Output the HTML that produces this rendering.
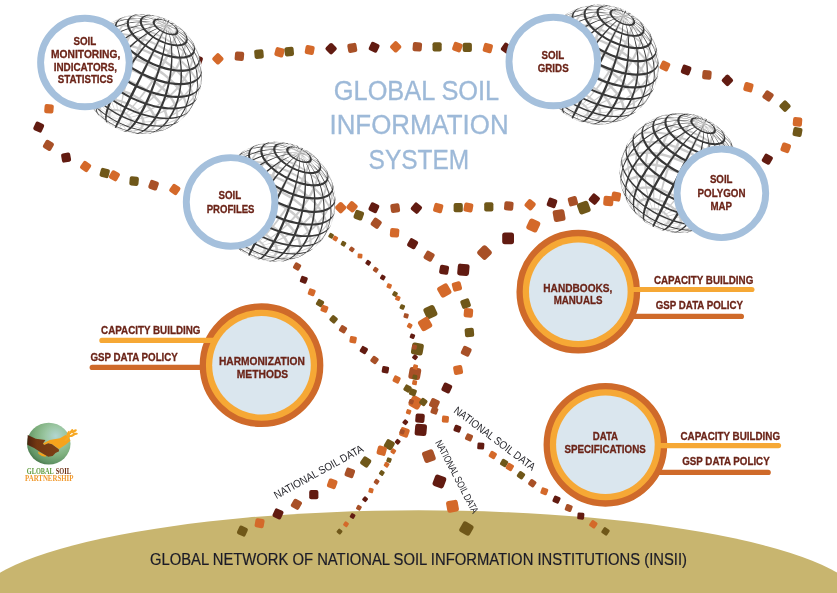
<!DOCTYPE html>
<html lang="en"><head><meta charset="utf-8"><title>Global Soil Information System</title>
<style>html,body{margin:0;padding:0;background:#fff}body{width:837px;height:593px;overflow:hidden}svg{display:block;will-change:transform;transform:translateZ(0)}</style>
</head><body>
<svg width="837" height="593" viewBox="0 0 837 593" font-family="'Liberation Sans', sans-serif"><defs>
<g id="globe">
<circle r="59.6" fill="#fff"/>
<path d="M0.5 -60.0L2.3 -59.9L4.2 -59.8L6.2 -59.6L8.2 -59.2L10.3 -58.8L12.4 -58.3L14.5 -57.7L16.7 -57.0L18.9 -56.2L21.0 -55.4L23.2 -54.5L25.3 -53.5L27.4 -52.4L29.5 -51.3L31.5 -50.2L33.5 -48.9L35.4 -47.7L37.3 -46.4L39.0 -45.0L40.7 -43.7L42.3 -42.3L43.8 -40.8L45.2 -39.4L46.4 -38.0L47.6 -36.6L48.6 -35.2L49.7 -33.6L48.6 -35.1L47.4 -36.6L46.1 -38.1L44.6 -39.7L43.1 -41.2L41.4 -42.6L39.6 -44.1L37.7 -45.5L35.8 -46.9L33.7 -48.2L31.6 -49.5L29.5 -50.8L27.3 -52.0L25.0 -53.1L22.8 -54.1L20.5 -55.1L18.2 -56.0L15.9 -56.8L13.6 -57.5L11.3 -58.2L9.1 -58.7L6.9 -59.2L4.7 -59.5L2.7 -59.8L0.6 -59.9L-1.3 -60.0ZM-15.9 -57.9L-14.1 -58.3L-12.1 -58.6L-10.0 -58.8L-7.7 -58.9L-5.4 -58.8L-3.0 -58.6L-0.5 -58.3L2.0 -57.9L4.7 -57.4L7.3 -56.7L10.0 -56.0L12.7 -55.1L15.5 -54.2L18.2 -53.1L20.9 -51.9L23.6 -50.7L26.2 -49.4L28.9 -48.0L31.4 -46.5L33.9 -45.0L36.3 -43.4L38.6 -41.7L40.9 -40.0L43.0 -38.3L45.0 -36.5L46.9 -34.7L48.6 -32.9L50.2 -31.1L51.6 -29.3L52.9 -27.5L54.0 -25.7L55.0 -23.9L55.8 -22.2L56.3 -20.5L57.1 -18.4L56.5 -20.1L55.7 -21.9L54.7 -23.8L53.6 -25.7L52.2 -27.6L50.7 -29.4L49.1 -31.3L47.2 -33.2L45.3 -35.1L43.2 -36.9L41.0 -38.7L38.7 -40.5L36.3 -42.2L33.8 -43.9L31.2 -45.5L28.6 -47.0L25.8 -48.4L23.1 -49.8L20.3 -51.1L17.5 -52.3L14.6 -53.4L11.8 -54.4L9.0 -55.3L6.2 -56.1L3.4 -56.7L0.7 -57.3L-2.0 -57.7L-4.6 -58.0L-7.1 -58.2L-9.5 -58.3L-11.8 -58.2L-14.0 -58.0L-16.1 -57.7L-18.0 -57.2ZM-29.0 -52.5L-27.1 -53.3L-25.1 -54.0L-22.9 -54.5L-20.6 -54.9L-18.1 -55.1L-15.5 -55.2L-12.8 -55.2L-10.0 -55.0L-7.0 -54.6L-4.1 -54.2L-1.0 -53.6L2.1 -52.8L5.2 -51.9L8.3 -51.0L11.5 -49.8L14.7 -48.6L17.8 -47.3L20.9 -45.9L24.0 -44.3L27.0 -42.7L30.0 -41.0L32.8 -39.2L35.6 -37.4L38.3 -35.4L40.9 -33.5L43.4 -31.5L45.7 -29.4L47.8 -27.3L49.9 -25.2L51.7 -23.1L53.4 -20.9L54.9 -18.8L56.2 -16.7L57.3 -14.6L58.2 -12.5L58.9 -10.5L59.4 -8.5L59.6 -6.6L59.8 -4.3L59.6 -6.3L59.1 -8.3L58.4 -10.4L57.5 -12.5L56.3 -14.6L55.0 -16.8L53.5 -19.0L51.8 -21.2L49.9 -23.4L47.8 -25.6L45.6 -27.7L43.2 -29.8L40.7 -31.9L38.0 -33.9L35.3 -35.9L32.4 -37.8L29.5 -39.6L26.5 -41.3L23.4 -43.0L20.2 -44.6L17.0 -46.0L13.8 -47.4L10.6 -48.6L7.4 -49.8L4.1 -50.8L0.9 -51.7L-2.2 -52.4L-5.4 -53.1L-8.4 -53.5L-11.4 -53.9L-14.3 -54.1L-17.1 -54.1L-19.7 -54.0L-22.3 -53.8L-24.7 -53.4L-26.9 -52.9L-29.0 -52.2L-30.9 -51.3ZM-40.8 -43.9L-39.2 -45.2L-37.3 -46.2L-35.2 -47.1L-33.0 -47.9L-30.6 -48.5L-28.0 -48.9L-25.2 -49.2L-22.4 -49.3L-19.4 -49.3L-16.3 -49.1L-13.1 -48.7L-9.8 -48.2L-6.5 -47.6L-3.1 -46.8L0.3 -45.9L3.7 -44.8L7.2 -43.6L10.6 -42.3L14.1 -40.8L17.5 -39.2L20.8 -37.6L24.1 -35.8L27.3 -33.9L30.5 -32.0L33.5 -30.0L36.4 -27.9L39.2 -25.7L41.9 -23.5L44.4 -21.2L46.8 -18.9L49.0 -16.6L51.0 -14.2L52.9 -11.9L54.5 -9.5L55.9 -7.2L57.1 -4.8L58.1 -2.5L58.9 -0.3L59.4 1.9L59.6 4.0L59.7 6.1L59.4 8.1L59.1 10.4L59.3 8.4L59.3 6.3L59.0 4.1L58.5 1.9L57.7 -0.4L56.8 -2.7L55.5 -5.1L54.1 -7.5L52.4 -9.8L50.6 -12.2L48.5 -14.6L46.3 -17.0L43.9 -19.3L41.4 -21.6L38.7 -23.9L35.8 -26.1L32.8 -28.2L29.8 -30.3L26.6 -32.2L23.3 -34.1L20.0 -35.9L16.6 -37.6L13.2 -39.2L9.7 -40.7L6.2 -42.0L2.7 -43.2L-0.8 -44.3L-4.2 -45.2L-7.7 -46.0L-11.0 -46.7L-14.3 -47.2L-17.6 -47.5L-20.7 -47.7L-23.7 -47.8L-26.6 -47.7L-29.4 -47.4L-32.0 -46.9L-34.5 -46.3L-36.8 -45.5L-38.9 -44.6L-40.8 -43.5L-42.5 -42.3ZM-50.4 -32.5L-49.1 -34.1L-47.6 -35.6L-45.8 -36.9L-43.9 -38.1L-41.7 -39.0L-39.3 -39.9L-36.8 -40.5L-34.1 -41.0L-31.2 -41.3L-28.2 -41.5L-25.1 -41.5L-21.8 -41.3L-18.5 -40.9L-15.1 -40.4L-11.6 -39.8L-8.1 -39.0L-4.5 -38.0L-0.9 -36.9L2.7 -35.7L6.3 -34.3L9.8 -32.8L13.4 -31.2L16.8 -29.4L20.3 -27.6L23.6 -25.7L26.9 -23.6L30.0 -21.5L33.1 -19.3L36.0 -17.0L38.7 -14.7L41.4 -12.3L43.8 -9.9L46.1 -7.5L48.2 -5.0L50.1 -2.5L51.8 -0.0L53.3 2.5L54.5 4.9L55.5 7.4L56.3 9.7L56.8 12.1L57.1 14.3L57.1 16.5L56.8 18.6L56.3 20.6L55.5 22.5L54.6 24.7L55.4 22.8L56.0 20.8L56.2 18.7L56.2 16.5L55.9 14.2L55.4 11.9L54.6 9.5L53.6 7.0L52.4 4.5L50.9 2.0L49.2 -0.5L47.3 -3.0L45.2 -5.4L42.9 -7.9L40.5 -10.3L37.8 -12.7L35.1 -15.1L32.2 -17.4L29.1 -19.6L25.9 -21.7L22.7 -23.7L19.3 -25.7L15.9 -27.5L12.4 -29.3L8.9 -30.9L5.3 -32.4L1.7 -33.8L-1.9 -35.0L-5.5 -36.1L-9.1 -37.1L-12.6 -37.9L-16.1 -38.5L-19.6 -39.0L-22.9 -39.4L-26.2 -39.5L-29.3 -39.6L-32.3 -39.4L-35.2 -39.1L-37.9 -38.6L-40.5 -37.9L-42.9 -37.1L-45.0 -36.1L-47.0 -34.9L-48.8 -33.6L-50.3 -32.1L-51.6 -30.5ZM-55.1 -22.7L-53.8 -24.3L-52.2 -25.9L-50.5 -27.2L-48.5 -28.4L-46.3 -29.4L-43.9 -30.3L-41.3 -31.0L-38.6 -31.5L-35.7 -31.9L-32.7 -32.0L-29.6 -32.1L-26.4 -31.9L-23.0 -31.6L-19.6 -31.1L-16.1 -30.5L-12.6 -29.7L-9.0 -28.8L-5.5 -27.7L-1.9 -26.5L1.7 -25.1L5.3 -23.6L8.8 -22.0L12.3 -20.3L15.7 -18.4L19.0 -16.5L22.2 -14.4L25.4 -12.3L28.4 -10.1L31.3 -7.8L34.1 -5.5L36.7 -3.1L39.1 -0.7L41.3 1.8L43.4 4.3L45.3 6.8L47.0 9.3L48.4 11.8L49.6 14.3L50.6 16.8L51.4 19.2L51.9 21.6L52.1 23.9L52.1 26.1L51.8 28.2L51.3 30.3L50.5 32.2L49.4 34.0L48.1 35.7L46.7 37.6L48.0 35.9L49.1 34.1L49.9 32.2L50.5 30.1L50.7 28.0L50.7 25.8L50.5 23.5L50.0 21.1L49.3 18.7L48.3 16.3L47.1 13.8L45.7 11.3L44.0 8.8L42.1 6.3L40.1 3.8L37.8 1.3L35.4 -1.1L32.9 -3.5L30.1 -5.8L27.2 -8.1L24.2 -10.3L21.1 -12.4L17.9 -14.4L14.6 -16.3L11.2 -18.2L7.7 -19.9L4.2 -21.5L0.7 -23.0L-2.8 -24.3L-6.4 -25.5L-10.0 -26.6L-13.5 -27.5L-17.0 -28.3L-20.5 -28.9L-23.9 -29.4L-27.2 -29.7L-30.4 -29.8L-33.5 -29.8L-36.5 -29.6L-39.4 -29.3L-42.1 -28.7L-44.6 -28.0L-47.0 -27.2L-49.2 -26.1L-51.2 -25.0L-52.9 -23.6L-54.5 -22.1L-55.8 -20.4ZM-56.9 -18.9L-56.1 -20.9L-55.1 -22.7L-55.8 -20.4L-56.8 -18.6L-57.6 -16.7ZM-57.3 -12.0L-56.0 -13.7L-54.5 -15.2L-52.8 -16.5L-50.9 -17.7L-48.8 -18.7L-46.6 -19.6L-44.1 -20.3L-41.5 -20.8L-38.7 -21.2L-35.8 -21.4L-32.8 -21.5L-29.7 -21.3L-26.5 -21.1L-23.3 -20.6L-19.9 -20.1L-16.6 -19.3L-13.1 -18.5L-9.7 -17.4L-6.3 -16.3L-2.9 -15.0L0.6 -13.6L3.9 -12.0L7.2 -10.4L10.5 -8.6L13.7 -6.8L16.8 -4.8L19.8 -2.8L22.7 -0.6L25.4 1.6L28.0 3.8L30.5 6.1L32.8 8.5L35.0 10.9L36.9 13.3L38.7 15.7L40.3 18.1L41.6 20.6L42.8 23.0L43.7 25.4L44.4 27.7L44.8 30.0L45.0 32.2L45.0 34.4L44.7 36.5L44.1 38.5L43.3 40.3L42.3 42.1L41.0 43.7L39.4 45.2L37.6 46.6L35.9 48.0L37.7 46.7L39.2 45.2L40.5 43.6L41.5 41.9L42.3 40.0L42.9 38.0L43.2 36.0L43.2 33.9L43.0 31.6L42.6 29.4L41.9 27.1L41.0 24.7L39.9 22.3L38.6 19.9L37.0 17.5L35.3 15.2L33.4 12.8L31.3 10.4L29.0 8.1L26.6 5.8L24.0 3.6L21.3 1.4L18.4 -0.7L15.5 -2.7L12.5 -4.6L9.3 -6.4L6.1 -8.2L2.8 -9.8L-0.5 -11.3L-3.8 -12.7L-7.2 -14.0L-10.6 -15.1L-14.0 -16.1L-17.3 -17.0L-20.7 -17.7L-23.9 -18.3L-27.2 -18.7L-30.3 -18.9L-33.4 -19.0L-36.3 -19.0L-39.2 -18.8L-41.9 -18.4L-44.4 -17.8L-46.9 -17.1L-49.1 -16.3L-51.2 -15.3L-53.1 -14.1L-54.7 -12.8L-56.2 -11.3L-57.4 -9.7ZM-59.9 -4.2L-59.6 -6.3L-59.1 -8.4L-58.3 -10.3L-57.3 -12.0L-57.4 -9.7L-58.4 -7.9L-59.2 -6.0L-59.7 -4.0L-60.0 -1.9ZM-57.0 -1.0L-55.8 -2.6L-54.5 -4.0L-53.0 -5.2L-51.2 -6.4L-49.3 -7.3L-47.2 -8.2L-45.0 -8.8L-42.6 -9.4L-40.1 -9.8L-37.4 -10.0L-34.7 -10.1L-31.9 -10.0L-28.9 -9.8L-25.9 -9.4L-22.9 -8.9L-19.8 -8.3L-16.7 -7.5L-13.5 -6.6L-10.4 -5.5L-7.3 -4.3L-4.1 -3.1L-1.1 -1.7L2.0 -0.1L4.9 1.5L7.8 3.2L10.7 5.0L13.4 6.9L16.0 8.8L18.5 10.8L20.9 12.9L23.2 15.0L25.2 17.2L27.2 19.4L29.0 21.6L30.5 23.9L31.9 26.1L33.2 28.3L34.2 30.6L35.0 32.8L35.6 34.9L35.9 37.0L36.1 39.1L36.0 41.1L35.7 43.0L35.2 44.8L34.4 46.6L33.4 48.2L32.2 49.7L30.8 51.1L29.1 52.4L27.2 53.5L25.1 54.4L23.2 55.3L25.3 54.4L27.1 53.3L28.7 52.1L30.1 50.7L31.3 49.3L32.3 47.7L33.0 46.0L33.6 44.2L33.9 42.3L34.0 40.4L33.8 38.4L33.5 36.3L32.9 34.2L32.1 32.0L31.1 29.9L30.0 27.7L28.6 25.5L27.1 23.3L25.3 21.1L23.5 19.0L21.4 16.9L19.3 14.8L16.9 12.8L14.5 10.8L11.9 8.9L9.3 7.1L6.5 5.3L3.7 3.7L0.8 2.1L-2.1 0.6L-5.2 -0.8L-8.2 -2.0L-11.2 -3.1L-14.3 -4.2L-17.4 -5.1L-20.4 -5.8L-23.4 -6.4L-26.4 -6.9L-29.3 -7.3L-32.2 -7.5L-34.9 -7.5L-37.6 -7.5L-40.2 -7.2L-42.6 -6.8L-44.9 -6.3L-47.1 -5.6L-49.1 -4.8L-51.0 -3.9L-52.7 -2.8L-54.2 -1.5L-55.5 -0.2L-56.6 1.3ZM-59.1 10.5L-59.3 8.3L-59.3 6.3L-59.1 4.3L-58.6 2.4L-57.9 0.6L-57.0 -1.0L-56.6 1.3L-57.5 3.0L-58.2 4.7L-58.6 6.5L-58.9 8.5L-58.9 10.5L-58.6 12.6ZM-54.3 9.8L-53.3 8.5L-52.2 7.3L-50.8 6.1L-49.3 5.1L-47.7 4.2L-45.9 3.5L-44.0 2.9L-41.9 2.4L-39.8 2.0L-37.5 1.8L-35.1 1.7L-32.7 1.7L-30.1 1.9L-27.6 2.2L-24.9 2.6L-22.2 3.1L-19.5 3.8L-16.8 4.6L-14.1 5.5L-11.4 6.5L-8.7 7.6L-6.0 8.8L-3.4 10.1L-0.8 11.5L1.7 13.0L4.1 14.5L6.5 16.2L8.8 17.9L10.9 19.6L13.0 21.4L14.9 23.3L16.7 25.2L18.3 27.1L19.8 29.0L21.2 31.0L22.4 32.9L23.4 34.9L24.2 36.8L24.9 38.7L25.4 40.6L25.7 42.5L25.7 44.3L25.6 46.0L25.3 47.7L24.9 49.2L24.2 50.7L23.3 52.2L22.2 53.5L20.9 54.7L19.5 55.8L17.8 56.7L16.0 57.5L14.0 58.2L11.9 58.8L9.6 59.2L7.8 59.5L10.0 59.1L12.1 58.6L14.0 57.9L15.7 57.1L17.3 56.2L18.7 55.1L19.9 54.0L20.9 52.7L21.8 51.4L22.5 49.9L23.0 48.4L23.3 46.8L23.4 45.1L23.3 43.4L23.0 41.6L22.6 39.8L21.9 38.0L21.1 36.1L20.2 34.3L19.0 32.4L17.7 30.5L16.3 28.6L14.7 26.8L13.0 25.0L11.2 23.2L9.2 21.4L7.1 19.7L5.0 18.1L2.7 16.5L0.3 15.0L-2.1 13.6L-4.5 12.3L-7.1 11.0L-9.6 9.9L-12.2 8.8L-14.8 7.8L-17.4 7.0L-20.1 6.2L-22.7 5.6L-25.2 5.1L-27.8 4.7L-30.2 4.4L-32.7 4.2L-35.0 4.2L-37.3 4.3L-39.5 4.6L-41.6 4.9L-43.5 5.4L-45.4 6.0L-47.1 6.7L-48.7 7.6L-50.1 8.6L-51.4 9.6L-52.5 10.8L-53.4 12.1ZM-54.1 25.9L-54.9 23.9L-55.6 21.9L-56.0 19.9L-56.2 18.1L-56.2 16.2L-56.0 14.5L-55.6 12.9L-55.1 11.3L-54.3 9.8L-53.4 12.1L-54.1 13.5L-54.7 15.1L-55.1 16.6L-55.2 18.3L-55.2 20.1L-55.0 21.9L-54.6 23.7L-54.0 25.7L-53.2 27.6ZM-49.3 20.2L-48.5 19.1L-47.6 18.1L-46.6 17.1L-45.4 16.3L-44.1 15.6L-42.7 14.9L-41.2 14.4L-39.5 14.0L-37.8 13.7L-36.0 13.5L-34.1 13.4L-32.1 13.4L-30.1 13.5L-28.0 13.7L-25.9 14.0L-23.8 14.4L-21.6 14.9L-19.4 15.6L-17.2 16.3L-15.0 17.1L-12.9 18.0L-10.7 18.9L-8.6 20.0L-6.6 21.1L-4.5 22.3L-2.6 23.6L-0.7 24.9L1.1 26.2L2.8 27.7L4.5 29.1L6.0 30.6L7.4 32.1L8.7 33.7L9.9 35.3L11.0 36.8L11.9 38.4L12.7 40.0L13.3 41.5L13.8 43.1L14.2 44.6L14.4 46.1L14.4 47.5L14.3 48.9L14.0 50.2L13.6 51.5L13.0 52.7L12.3 53.8L11.4 54.9L10.4 55.8L9.2 56.7L7.9 57.4L6.4 58.1L4.8 58.7L3.1 59.1L1.3 59.4L-0.6 59.6L-2.7 59.7L-4.8 59.7L-6.9 59.6L-9.2 59.3L-11.5 58.9L-13.8 58.4L-16.1 57.8L-16.9 57.6L-14.7 58.2L-12.5 58.6L-10.3 59.0L-8.2 59.2L-6.2 59.4L-4.2 59.4L-2.3 59.3L-0.5 59.1L1.2 58.8L2.8 58.4L4.3 57.9L5.7 57.3L6.9 56.6L8.0 55.8L9.0 54.9L9.8 53.9L10.5 52.8L11.1 51.7L11.5 50.5L11.8 49.3L11.9 48.0L11.8 46.6L11.7 45.2L11.3 43.8L10.9 42.3L10.3 40.9L9.5 39.4L8.7 37.9L7.7 36.4L6.6 35.0L5.3 33.5L4.0 32.1L2.6 30.6L1.0 29.3L-0.6 27.9L-2.3 26.6L-4.1 25.4L-5.9 24.2L-7.8 23.1L-9.7 22.0L-11.7 21.0L-13.7 20.1L-15.8 19.3L-17.8 18.5L-19.9 17.9L-21.9 17.3L-24.0 16.8L-26.0 16.4L-28.0 16.1L-29.9 15.9L-31.8 15.8L-33.7 15.8L-35.5 15.9L-37.2 16.1L-38.8 16.4L-40.3 16.8L-41.8 17.3L-43.1 17.9L-44.3 18.6L-45.4 19.4L-46.4 20.3L-47.2 21.3L-47.9 22.3ZM-38.3 46.2L-40.1 44.6L-41.8 43.0L-43.3 41.4L-44.8 39.8L-46.1 38.1L-47.2 36.5L-48.2 34.8L-49.0 33.1L-49.7 31.5L-50.2 29.9L-50.6 28.4L-50.8 26.8L-50.8 25.4L-50.7 24.0L-50.4 22.6L-49.9 21.4L-49.3 20.2L-47.9 22.3L-48.5 23.4L-48.9 24.6L-49.2 25.9L-49.3 27.2L-49.3 28.6L-49.1 30.0L-48.8 31.5L-48.3 33.0L-47.7 34.5L-46.9 36.0L-45.9 37.6L-44.9 39.2L-43.7 40.7L-42.3 42.3L-40.9 43.8L-39.3 45.3L-37.6 46.7ZM-42.3 29.6L-41.8 28.8L-41.1 28.0L-40.4 27.4L-39.6 26.8L-38.7 26.2L-37.7 25.8L-36.6 25.4L-35.5 25.0L-34.3 24.8L-33.0 24.6L-31.7 24.5L-30.3 24.5L-28.8 24.6L-27.4 24.7L-25.9 25.0L-24.3 25.2L-22.8 25.6L-21.3 26.0L-19.7 26.5L-18.1 27.1L-16.6 27.7L-15.1 28.4L-13.6 29.2L-12.1 30.0L-10.7 30.8L-9.3 31.7L-8.0 32.6L-6.7 33.6L-5.5 34.6L-4.3 35.7L-3.2 36.8L-2.2 37.8L-1.3 38.9L-0.5 40.1L0.2 41.2L0.9 42.3L1.4 43.4L1.8 44.5L2.2 45.6L2.4 46.7L2.5 47.7L2.5 48.8L2.4 49.7L2.2 50.7L1.9 51.6L1.5 52.4L0.9 53.2L0.3 53.9L-0.5 54.6L-1.3 55.2L-2.3 55.7L-3.3 56.2L-4.4 56.6L-5.6 56.9L-6.9 57.1L-8.3 57.2L-9.7 57.3L-11.2 57.3L-12.7 57.2L-14.2 57.0L-15.8 56.7L-17.4 56.3L-19.1 55.9L-20.7 55.4L-22.4 54.8L-24.0 54.2L-25.6 53.4L-27.2 52.6L-28.8 51.8L-30.3 50.9L-31.7 49.9L-33.1 48.9L-34.4 47.9L-35.7 46.8L-36.9 45.7L-38.0 44.6L-39.0 43.4L-39.9 42.3L-40.7 41.1L-41.4 39.9L-42.0 38.8L-42.5 37.6L-42.8 36.5L-43.1 35.4L-43.2 34.3L-43.3 33.3L-43.2 32.3L-43.0 31.3L-42.7 30.4L-42.3 29.6L-40.5 31.4L-40.9 32.2L-41.2 33.0L-41.3 33.9L-41.4 34.8L-41.4 35.7L-41.2 36.7L-41.0 37.7L-40.7 38.7L-40.2 39.8L-39.7 40.8L-39.1 41.8L-38.3 42.9L-37.5 43.9L-36.6 45.0L-35.6 46.0L-34.6 47.0L-33.4 48.0L-32.2 48.9L-31.0 49.8L-29.7 50.7L-28.3 51.5L-26.9 52.3L-25.5 53.0L-24.0 53.6L-22.6 54.2L-21.1 54.7L-19.6 55.2L-18.1 55.6L-16.7 55.9L-15.2 56.1L-13.8 56.3L-12.5 56.4L-11.1 56.4L-9.9 56.4L-8.6 56.3L-7.5 56.1L-6.4 55.8L-5.4 55.4L-4.4 55.0L-3.6 54.6L-2.8 54.0L-2.1 53.4L-1.6 52.8L-1.1 52.0L-0.7 51.3L-0.4 50.5L-0.2 49.6L-0.1 48.8L-0.1 47.8L-0.2 46.9L-0.4 45.9L-0.7 44.9L-1.1 43.9L-1.6 42.9L-2.1 41.9L-2.8 40.9L-3.5 39.9L-4.4 38.9L-5.3 37.9L-6.2 36.9L-7.3 36.0L-8.4 35.1L-9.5 34.2L-10.7 33.3L-12.0 32.5L-13.3 31.7L-14.6 31.0L-16.0 30.3L-17.3 29.7L-18.7 29.2L-20.1 28.6L-21.5 28.2L-22.9 27.8L-24.3 27.5L-25.7 27.2L-27.1 27.0L-28.4 26.9L-29.7 26.9L-31.0 26.9L-32.2 27.0L-33.3 27.1L-34.4 27.3L-35.5 27.6L-36.4 28.0L-37.3 28.4L-38.1 28.9L-38.9 29.4L-39.5 30.1L-40.1 30.7L-40.5 31.4ZM-33.5 37.6L-33.3 37.2L-32.9 36.8L-32.6 36.4L-32.1 36.1L-31.7 35.8L-31.1 35.5L-30.6 35.3L-29.9 35.1L-29.3 35.0L-28.6 34.9L-27.9 34.8L-27.1 34.8L-26.4 34.9L-25.6 34.9L-24.7 35.0L-23.9 35.2L-23.1 35.4L-22.2 35.6L-21.4 35.9L-20.5 36.2L-19.7 36.5L-18.9 36.9L-18.1 37.3L-17.3 37.7L-16.5 38.2L-15.7 38.7L-15.0 39.2L-14.3 39.7L-13.7 40.3L-13.0 40.9L-12.5 41.4L-11.9 42.0L-11.4 42.6L-11.0 43.2L-10.6 43.9L-10.3 44.5L-10.0 45.1L-9.8 45.7L-9.6 46.3L-9.5 46.8L-9.4 47.4L-9.4 47.9L-9.5 48.5L-9.6 49.0L-9.8 49.5L-10.1 49.9L-10.4 50.3L-10.7 50.7L-11.1 51.1L-11.6 51.4L-12.1 51.7L-12.7 51.9L-13.3 52.1L-13.9 52.3L-14.6 52.4L-15.4 52.4L-16.1 52.5L-16.9 52.5L-17.7 52.4L-18.5 52.3L-19.4 52.1L-20.2 52.0L-21.1 51.7L-22.0 51.5L-22.9 51.1L-23.7 50.8L-24.6 50.4L-25.4 50.0L-26.2 49.5L-27.0 49.1L-27.8 48.6L-28.6 48.0L-29.3 47.5L-29.9 46.9L-30.6 46.3L-31.1 45.7L-31.7 45.1L-32.2 44.5L-32.6 43.9L-33.0 43.2L-33.3 42.6L-33.6 42.0L-33.8 41.4L-33.9 40.8L-34.0 40.2L-34.0 39.7L-34.0 39.1L-33.9 38.6L-33.8 38.1L-33.5 37.6L-31.5 39.2L-31.6 39.6L-31.7 40.0L-31.8 40.4L-31.8 40.8L-31.8 41.3L-31.7 41.7L-31.6 42.2L-31.5 42.7L-31.2 43.2L-31.0 43.7L-30.7 44.2L-30.3 44.7L-29.9 45.2L-29.5 45.7L-29.0 46.2L-28.5 46.7L-28.0 47.1L-27.4 47.6L-26.8 48.0L-26.2 48.4L-25.6 48.8L-24.9 49.1L-24.2 49.5L-23.5 49.8L-22.8 50.1L-22.1 50.3L-21.4 50.5L-20.7 50.7L-20.0 50.9L-19.4 51.0L-18.7 51.1L-18.0 51.1L-17.4 51.1L-16.8 51.1L-16.2 51.1L-15.7 51.0L-15.1 50.8L-14.6 50.7L-14.2 50.5L-13.8 50.3L-13.4 50.0L-13.1 49.7L-12.8 49.4L-12.5 49.1L-12.3 48.7L-12.2 48.3L-12.1 47.9L-12.0 47.5L-12.0 47.1L-12.0 46.6L-12.1 46.1L-12.3 45.7L-12.4 45.2L-12.7 44.7L-12.9 44.2L-13.2 43.7L-13.6 43.2L-14.0 42.7L-14.4 42.2L-14.9 41.8L-15.4 41.3L-15.9 40.9L-16.5 40.4L-17.1 40.0L-17.7 39.6L-18.3 39.2L-19.0 38.9L-19.6 38.6L-20.3 38.3L-21.0 38.0L-21.6 37.7L-22.3 37.5L-23.0 37.3L-23.7 37.2L-24.4 37.1L-25.0 37.0L-25.7 36.9L-26.3 36.9L-26.9 36.9L-27.5 37.0L-28.0 37.0L-28.6 37.2L-29.1 37.3L-29.5 37.5L-29.9 37.7L-30.3 37.9L-30.7 38.2L-31.0 38.5L-31.2 38.8L-31.5 39.2ZM-22.3 44.7L-25.8 42.9L-29.3 40.8L-32.6 38.6L-35.7 36.1L-38.7 33.6L-41.6 30.8L-44.2 27.9L-46.6 24.8L-48.9 21.6L-50.8 18.4L-52.6 15.0L-54.1 11.5L-55.4 7.9L-56.4 4.3L-57.2 0.7L-57.6 -2.9L-57.8 -6.6L-57.7 -10.3L-57.4 -13.9L-56.7 -17.4L-55.8 -20.9L-54.6 -24.4L-53.2 -27.7L-51.4 -30.9L-49.4 -34.0L-48.6 -35.1L-50.6 -32.1L-52.3 -28.9L-53.8 -25.6L-55.0 -22.2L-55.9 -18.7L-56.6 -15.1L-57.0 -11.4L-57.1 -7.8L-56.9 -4.1L-56.4 -0.4L-55.7 3.3L-54.8 6.9L-53.5 10.5L-52.1 14.1L-50.3 17.5L-48.4 20.9L-46.2 24.1L-43.8 27.2L-41.3 30.2L-38.5 33.1L-35.5 35.8L-32.4 38.3L-29.2 40.6L-25.8 42.8L-22.3 44.7ZM-22.3 44.7L-25.5 42.4L-28.5 39.9L-31.5 37.2L-34.3 34.3L-36.9 31.3L-39.4 28.2L-41.6 24.9L-43.7 21.5L-45.6 18.0L-47.2 14.3L-48.7 10.7L-49.9 6.9L-50.9 3.2L-51.7 -0.6L-52.2 -4.5L-52.4 -8.3L-52.5 -12.0L-52.2 -15.8L-51.8 -19.5L-51.0 -23.1L-50.1 -26.6L-48.8 -30.0L-47.4 -33.3L-45.7 -36.4L-43.8 -39.4L-41.6 -42.2L-39.3 -44.8L-36.7 -47.2L-33.9 -49.4L-31.0 -51.4L-27.9 -53.1L-26.7 -53.7L-29.8 -52.0L-32.7 -50.1L-35.4 -47.9L-37.9 -45.5L-40.2 -42.9L-42.4 -40.1L-44.3 -37.2L-46.0 -34.1L-47.4 -30.8L-48.6 -27.4L-49.6 -23.9L-50.4 -20.3L-50.9 -16.6L-51.1 -12.8L-51.2 -9.0L-50.9 -5.2L-50.5 -1.4L-49.8 2.5L-48.9 6.3L-47.7 10.0L-46.3 13.8L-44.8 17.4L-43.0 21.0L-41.0 24.4L-38.8 27.8L-36.4 31.0L-33.9 34.1L-31.2 37.0L-28.4 39.8L-25.4 42.3L-22.3 44.7ZM-22.3 44.7L-24.9 42.1L-27.4 39.3L-29.7 36.3L-31.9 33.2L-34.0 29.9L-35.9 26.4L-37.6 22.9L-39.2 19.3L-40.5 15.6L-41.7 11.8L-42.7 7.9L-43.5 4.0L-44.1 0.1L-44.4 -3.8L-44.6 -7.7L-44.6 -11.5L-44.4 -15.4L-43.9 -19.2L-43.3 -22.9L-42.4 -26.5L-41.3 -30.0L-40.1 -33.3L-38.6 -36.6L-37.0 -39.6L-35.1 -42.5L-33.1 -45.3L-30.9 -47.8L-28.6 -50.1L-26.1 -52.2L-23.4 -54.0L-20.7 -55.6L-17.8 -57.0L-14.8 -58.1L-11.7 -58.9L-8.5 -59.4L-7.3 -59.6L-10.3 -59.1L-13.3 -58.3L-16.3 -57.2L-19.1 -55.9L-21.8 -54.3L-24.4 -52.5L-26.8 -50.4L-29.1 -48.1L-31.3 -45.6L-33.2 -42.9L-35.1 -40.0L-36.7 -36.9L-38.2 -33.7L-39.4 -30.3L-40.5 -26.8L-41.4 -23.2L-42.1 -19.5L-42.6 -15.8L-42.9 -11.9L-43.0 -8.0L-42.9 -4.1L-42.6 -0.2L-42.1 3.7L-41.4 7.6L-40.5 11.5L-39.4 15.3L-38.2 19.0L-36.7 22.7L-35.1 26.2L-33.4 29.7L-31.4 33.0L-29.3 36.2L-27.1 39.2L-24.8 42.0L-22.3 44.7ZM-22.3 44.7L-24.1 41.9L-25.9 39.0L-27.5 35.9L-28.9 32.6L-30.3 29.2L-31.4 25.7L-32.5 22.1L-33.4 18.4L-34.1 14.6L-34.7 10.8L-35.1 6.9L-35.3 3.0L-35.4 -1.0L-35.3 -4.9L-35.1 -8.8L-34.7 -12.7L-34.1 -16.5L-33.4 -20.3L-32.5 -23.9L-31.5 -27.5L-30.3 -31.0L-29.0 -34.3L-27.5 -37.5L-25.9 -40.5L-24.2 -43.4L-22.3 -46.1L-20.4 -48.5L-18.3 -50.8L-16.1 -52.8L-13.8 -54.6L-11.4 -56.2L-9.0 -57.5L-6.5 -58.5L-3.9 -59.3L-1.3 -59.8L1.3 -60.0L3.9 -59.9L5.2 -59.8L2.7 -59.9L0.2 -59.7L-2.3 -59.2L-4.8 -58.4L-7.2 -57.4L-9.5 -56.1L-11.8 -54.5L-14.0 -52.7L-16.2 -50.7L-18.2 -48.4L-20.1 -46.0L-22.0 -43.3L-23.7 -40.4L-25.3 -37.4L-26.7 -34.2L-28.1 -30.9L-29.3 -27.4L-30.4 -23.9L-31.3 -20.2L-32.0 -16.5L-32.7 -12.7L-33.1 -8.8L-33.5 -4.9L-33.6 -1.0L-33.7 2.9L-33.5 6.9L-33.2 10.7L-32.8 14.6L-32.2 18.4L-31.4 22.1L-30.5 25.7L-29.5 29.2L-28.3 32.6L-27.0 35.9L-25.5 39.0L-24.0 41.9L-22.3 44.7ZM-22.3 44.7L-23.2 42.0L-24.1 39.1L-24.8 36.0L-25.4 32.8L-25.9 29.5L-26.3 26.0L-26.6 22.5L-26.7 18.8L-26.7 15.1L-26.6 11.3L-26.3 7.5L-26.0 3.7L-25.5 -0.2L-24.9 -4.0L-24.2 -7.9L-23.4 -11.7L-22.5 -15.4L-21.5 -19.1L-20.3 -22.7L-19.1 -26.2L-17.8 -29.6L-16.4 -32.9L-14.9 -36.1L-13.4 -39.1L-11.7 -41.9L-10.0 -44.6L-8.3 -47.1L-6.5 -49.3L-4.6 -51.4L-2.7 -53.2L-0.8 -54.8L1.1 -56.2L3.1 -57.3L5.1 -58.1L7.0 -58.7L8.9 -58.9L10.9 -58.9L12.7 -58.6L13.9 -58.4L12.2 -58.6L10.4 -58.6L8.6 -58.3L6.8 -57.7L5.0 -56.9L3.1 -55.7L1.3 -54.4L-0.5 -52.8L-2.4 -50.9L-4.1 -48.8L-5.9 -46.6L-7.6 -44.1L-9.3 -41.4L-10.9 -38.6L-12.5 -35.6L-13.9 -32.4L-15.4 -29.1L-16.7 -25.7L-18.0 -22.2L-19.1 -18.7L-20.2 -15.0L-21.2 -11.3L-22.1 -7.5L-22.9 -3.7L-23.6 0.2L-24.2 4.0L-24.6 7.8L-25.0 11.6L-25.2 15.3L-25.4 19.0L-25.4 22.7L-25.3 26.2L-25.1 29.6L-24.7 32.9L-24.3 36.1L-23.7 39.1L-23.1 42.0L-22.3 44.7ZM-22.3 44.7L-22.3 42.2L-22.2 39.5L-22.0 36.7L-21.7 33.7L-21.3 30.5L-20.8 27.3L-20.2 23.9L-19.6 20.5L-18.8 17.0L-18.0 13.4L-17.1 9.8L-16.1 6.1L-15.0 2.4L-13.9 -1.3L-12.7 -5.0L-11.4 -8.6L-10.1 -12.3L-8.8 -15.8L-7.4 -19.4L-6.0 -22.8L-4.5 -26.1L-3.0 -29.4L-1.5 -32.5L0.0 -35.5L1.5 -38.3L3.1 -41.0L4.6 -43.5L6.1 -45.9L7.6 -48.0L9.1 -49.9L10.6 -51.7L12.0 -53.1L13.4 -54.4L14.7 -55.4L16.0 -56.1L17.2 -56.6L18.3 -56.8L19.4 -56.8L20.3 -56.4L21.4 -56.0L20.6 -56.3L19.7 -56.3L18.7 -56.0L17.7 -55.5L16.5 -54.7L15.3 -53.7L14.1 -52.4L12.7 -50.9L11.4 -49.1L10.0 -47.2L8.5 -45.0L7.0 -42.7L5.6 -40.1L4.0 -37.4L2.5 -34.6L1.0 -31.6L-0.5 -28.5L-2.0 -25.3L-3.5 -21.9L-5.0 -18.5L-6.4 -15.0L-7.8 -11.5L-9.2 -7.9L-10.5 -4.2L-11.8 -0.6L-13.0 3.1L-14.2 6.7L-15.3 10.4L-16.3 13.9L-17.3 17.5L-18.2 21.0L-19.0 24.3L-19.8 27.6L-20.4 30.8L-21.0 33.9L-21.4 36.8L-21.8 39.6L-22.1 42.3L-22.3 44.7ZM-22.3 44.7L-21.3 42.6L-20.3 40.3L-19.1 37.8L-17.9 35.2L-16.7 32.4L-15.3 29.5L-13.9 26.5L-12.4 23.3L-10.9 20.1L-9.4 16.8L-7.8 13.5L-6.1 10.1L-4.5 6.6L-2.8 3.2L-1.2 -0.3L0.5 -3.8L2.2 -7.2L3.9 -10.7L5.5 -14.1L7.2 -17.4L8.8 -20.7L10.4 -23.9L11.9 -27.0L13.4 -30.0L14.8 -32.9L16.2 -35.6L17.5 -38.2L18.8 -40.6L20.0 -42.9L21.0 -45.0L22.0 -46.9L22.9 -48.6L23.7 -50.1L24.4 -51.3L25.0 -52.4L25.5 -53.1L25.9 -53.7L26.1 -53.9L26.2 -54.0L27.3 -53.4L27.3 -53.3L27.2 -53.0L27.0 -52.4L26.7 -51.5L26.2 -50.4L25.6 -49.1L24.9 -47.6L24.1 -45.9L23.2 -43.9L22.2 -41.8L21.1 -39.5L19.9 -37.0L18.6 -34.4L17.3 -31.6L15.8 -28.8L14.4 -25.8L12.8 -22.7L11.2 -19.5L9.6 -16.2L7.9 -12.9L6.2 -9.5L4.5 -6.1L2.7 -2.7L0.9 0.7L-0.8 4.2L-2.6 7.6L-4.3 11.0L-6.1 14.3L-7.8 17.6L-9.5 20.8L-11.1 24.0L-12.7 27.0L-14.3 30.0L-15.8 32.8L-17.3 35.5L-18.6 38.0L-19.9 40.4L-21.1 42.7L-22.3 44.7ZM-22.3 44.7L-20.4 43.1L-18.5 41.3L-16.5 39.3L-14.4 37.2L-12.3 34.9L-10.1 32.4L-8.0 29.9L-5.7 27.2L-3.5 24.4L-1.3 21.4L1.0 18.5L3.2 15.4L5.4 12.3L7.6 9.1L9.7 5.8L11.8 2.6L13.9 -0.7L15.8 -3.9L17.8 -7.2L19.6 -10.4L21.4 -13.6L23.0 -16.8L24.6 -19.9L26.1 -22.9L27.4 -25.8L28.7 -28.6L29.8 -31.3L30.8 -33.9L31.6 -36.4L32.4 -38.7L32.9 -40.8L33.3 -42.8L33.6 -44.6L33.7 -46.2L33.7 -47.6L33.4 -48.7L33.0 -49.7L32.5 -50.4L31.8 -50.9L32.8 -50.2L33.6 -49.7L34.3 -48.9L34.8 -47.8L35.2 -46.6L35.3 -45.1L35.3 -43.5L35.2 -41.6L34.8 -39.6L34.4 -37.4L33.7 -35.0L32.9 -32.5L32.0 -29.9L30.9 -27.2L29.7 -24.3L28.3 -21.4L26.8 -18.4L25.3 -15.3L23.6 -12.2L21.8 -9.0L19.9 -5.8L17.9 -2.5L15.9 0.7L13.8 3.9L11.6 7.1L9.4 10.3L7.1 13.4L4.8 16.5L2.5 19.5L0.1 22.4L-2.2 25.2L-4.6 28.0L-6.9 30.6L-9.2 33.1L-11.5 35.4L-13.8 37.6L-16.0 39.6L-18.2 41.5L-20.3 43.2L-22.3 44.7ZM-22.3 44.7L-19.6 43.7L-16.9 42.5L-14.2 41.1L-11.4 39.6L-8.5 37.9L-5.6 36.0L-2.8 33.9L0.1 31.7L3.0 29.4L5.8 26.9L8.6 24.4L11.4 21.7L14.1 18.9L16.7 16.1L19.3 13.1L21.8 10.1L24.1 7.1L26.4 4.0L28.6 0.9L30.6 -2.2L32.5 -5.3L34.3 -8.4L35.9 -11.5L37.3 -14.5L38.6 -17.5L39.8 -20.5L40.7 -23.3L41.5 -26.1L42.0 -28.8L42.4 -31.4L42.6 -33.8L42.6 -36.1L42.4 -38.2L41.9 -40.2L41.3 -42.0L40.5 -43.7L39.4 -45.1L38.2 -46.3L39.1 -45.5L40.5 -44.2L41.6 -42.7L42.6 -40.9L43.3 -39.0L43.8 -37.0L44.1 -34.8L44.2 -32.4L44.1 -29.9L43.8 -27.3L43.3 -24.6L42.5 -21.8L41.6 -18.9L40.5 -15.9L39.2 -12.9L37.8 -9.8L36.2 -6.8L34.4 -3.7L32.5 -0.6L30.4 2.5L28.2 5.6L25.9 8.7L23.4 11.6L20.9 14.6L18.2 17.5L15.5 20.2L12.7 22.9L9.9 25.5L7.0 28.0L4.0 30.4L1.1 32.6L-1.9 34.7L-4.9 36.7L-7.9 38.5L-10.9 40.1L-13.8 41.5L-16.7 42.8L-19.5 43.8L-22.3 44.7ZM-22.3 44.7L-19.0 44.4L-15.7 43.9L-12.4 43.2L-9.0 42.2L-5.5 41.1L-2.1 39.9L1.3 38.4L4.7 36.7L8.1 34.9L11.4 33.0L14.7 30.9L17.9 28.6L21.0 26.3L24.1 23.8L27.0 21.2L29.8 18.4L32.5 15.7L35.0 12.8L37.3 9.8L39.5 6.8L41.6 3.8L43.4 0.7L45.1 -2.4L46.5 -5.5L47.8 -8.6L48.8 -11.6L49.6 -14.7L50.2 -17.6L50.5 -20.6L50.6 -23.4L50.5 -26.2L50.1 -28.9L49.5 -31.4L48.6 -33.8L47.5 -36.1L46.2 -38.2L44.6 -40.2L45.4 -39.2L47.1 -37.2L48.5 -35.0L49.7 -32.6L50.6 -30.1L51.3 -27.5L51.7 -24.7L51.9 -21.9L51.9 -19.0L51.6 -16.0L51.0 -13.0L50.2 -9.9L49.2 -6.8L48.0 -3.7L46.5 -0.6L44.8 2.5L43.0 5.5L40.9 8.6L38.7 11.5L36.3 14.5L33.7 17.3L31.0 20.0L28.2 22.7L25.2 25.2L22.1 27.7L18.9 30.0L15.7 32.1L12.3 34.1L8.9 36.0L5.4 37.7L1.9 39.2L-1.6 40.6L-5.1 41.8L-8.6 42.8L-12.1 43.5L-15.5 44.1L-18.9 44.5L-22.3 44.7ZM-22.3 44.7L-18.6 45.1L-14.9 45.3L-11.2 45.2L-7.4 45.0L-3.6 44.5L0.2 43.8L4.0 43.0L7.8 41.9L11.6 40.7L15.3 39.2L18.9 37.6L22.4 35.8L25.8 33.8L29.1 31.7L32.3 29.4L35.4 27.0L38.2 24.5L41.0 21.8L43.5 19.0L45.8 16.2L48.0 13.2L49.9 10.1L51.6 7.0L53.0 3.9L54.3 0.7L55.2 -2.5L55.9 -5.8L56.4 -9.0L56.6 -12.2L56.5 -15.3L56.1 -18.5L55.5 -21.5L54.6 -24.5L53.4 -27.3L51.9 -30.1L52.5 -29.0L54.0 -26.2L55.2 -23.2L56.2 -20.2L56.9 -17.0L57.3 -13.9L57.4 -10.6L57.2 -7.4L56.8 -4.1L56.1 -0.9L55.1 2.4L53.9 5.6L52.4 8.8L50.7 11.9L48.8 14.9L46.7 17.9L44.3 20.7L41.7 23.5L39.0 26.1L36.1 28.6L33.0 31.0L29.8 33.2L26.4 35.3L23.0 37.1L19.4 38.8L15.7 40.4L12.0 41.7L8.2 42.9L4.4 43.8L0.5 44.6L-3.3 45.1L-7.2 45.5L-11.0 45.6L-14.8 45.5L-18.6 45.2L-22.3 44.7ZM-22.3 44.7L-18.5 45.8L-14.6 46.6L-10.7 47.2L-6.8 47.6L-2.8 47.8L1.2 47.7L5.2 47.4L9.2 46.9L13.1 46.2L17.0 45.3L20.7 44.1L24.5 42.8L28.0 41.2L31.5 39.5L34.9 37.5L38.0 35.4L41.1 33.1L43.9 30.6L46.5 28.0L49.0 25.2L51.2 22.3L53.1 19.3L54.9 16.1L56.3 12.9L57.6 9.6L58.5 6.2L59.2 2.8L59.6 -0.7L59.7 -4.1L59.5 -7.6L59.0 -11.1L59.2 -9.8L59.7 -6.2L59.9 -2.7L59.8 0.8L59.4 4.3L58.7 7.8L57.8 11.2L56.6 14.5L55.1 17.8L53.4 20.9L51.4 23.9L49.2 26.8L46.7 29.6L44.1 32.2L41.2 34.6L38.2 36.9L35.0 38.9L31.6 40.8L28.2 42.5L24.5 44.0L20.8 45.3L17.0 46.3L13.1 47.2L9.2 47.8L5.2 48.2L1.2 48.4L-2.8 48.3L-6.8 48.0L-10.7 47.5L-14.6 46.8L-18.5 45.9L-22.3 44.7ZM-22.3 44.7L-18.6 46.3L-14.8 47.8L-11.0 49.0L-7.1 49.9L-3.2 50.6L0.7 51.1L4.7 51.4L8.6 51.4L12.5 51.2L16.4 50.7L20.2 50.0L23.9 49.1L27.5 47.9L31.0 46.4L34.3 44.8L37.5 42.9L40.6 40.8L43.5 38.6L46.1 36.1L48.6 33.4L50.8 30.5L52.8 27.5L54.6 24.4L56.1 21.1L57.3 17.6L56.9 19.0L55.7 22.4L54.1 25.7L52.4 28.9L50.4 31.9L48.1 34.8L45.7 37.4L43.0 39.9L40.1 42.2L37.1 44.2L33.9 46.0L30.5 47.6L27.0 49.0L23.5 50.1L19.8 51.0L16.0 51.6L12.2 52.0L8.3 52.2L4.4 52.1L0.5 51.7L-3.4 51.1L-7.3 50.3L-11.1 49.2L-14.9 48.0L-18.6 46.4L-22.3 44.7ZM-22.3 44.7L-18.9 46.8L-15.5 48.7L-12.0 50.4L-8.5 51.8L-4.9 53.0L-1.2 53.9L2.5 54.6L6.1 55.1L9.8 55.3L13.5 55.2L17.0 54.8L20.6 54.2L24.0 53.3L27.4 52.2L30.6 50.8L33.7 49.1L36.7 47.2L39.5 45.1L42.1 42.7L41.0 43.7L38.4 46.1L35.6 48.2L32.7 50.1L29.6 51.7L26.4 53.1L23.1 54.2L19.7 55.0L16.2 55.6L12.7 55.9L9.1 55.9L5.5 55.6L1.9 55.1L-1.7 54.4L-5.3 53.4L-8.8 52.1L-12.3 50.6L-15.7 48.8L-19.0 46.9L-22.3 44.7ZM-22.3 44.7L-19.5 47.1L-16.7 49.3L-13.7 51.3L-10.7 53.1L-7.6 54.6L-4.5 55.9L-1.3 56.9L1.9 57.6L5.1 58.1L8.3 58.3L11.5 58.2L14.7 57.8L17.8 57.2L20.9 56.2L19.4 56.8L16.4 57.7L13.4 58.3L10.3 58.7L7.2 58.7L4.0 58.5L0.9 58.0L-2.2 57.2L-5.2 56.1L-8.3 54.8L-11.2 53.3L-14.1 51.5L-16.9 49.4L-19.7 47.2L-22.3 44.7ZM-22.3 44.7L-20.3 47.3L-18.2 49.6L-16.0 51.8L-13.7 53.7L-11.4 55.4L-8.9 56.8L-6.4 58.0L-3.9 58.9L-1.3 59.5L1.3 59.8L4.0 59.9L6.6 59.6L4.9 59.7L2.4 60.0L-0.2 59.9L-2.6 59.6L-5.1 58.9L-7.5 58.0L-9.9 56.9L-12.2 55.4L-14.4 53.7L-16.5 51.8L-18.5 49.7L-20.4 47.3L-22.3 44.7ZM-22.3 44.7L-21.2 47.2L-20.0 49.6L-18.7 51.7L-17.3 53.6L-15.8 55.2L-14.2 56.6L-12.6 57.8L-10.8 58.7L-9.0 59.3L-7.1 59.6L-8.8 59.3L-10.5 59.0L-12.2 58.5L-13.8 57.6L-15.3 56.5L-16.7 55.1L-18.0 53.5L-19.2 51.6L-20.3 49.5L-21.4 47.2L-22.3 44.7ZM-22.3 44.7L-22.1 47.0L-21.9 49.1L-21.6 51.1L-21.2 52.7L-20.6 54.2L-20.0 55.4L-19.2 56.3L-18.4 57.0L-17.4 57.4L-19.0 56.9L-19.8 56.5L-20.5 55.9L-21.1 55.0L-21.5 53.9L-21.9 52.5L-22.1 50.9L-22.3 49.0L-22.3 47.0L-22.3 44.7ZM-22.3 44.7L-23.1 46.6L-23.9 48.4L-24.5 49.9L-25.1 51.2L-25.5 52.3L-25.8 53.1L-26.0 53.7L-26.0 54.0L-26.0 54.1L-27.5 53.3L-27.4 53.3L-27.2 53.1L-26.8 52.6L-26.4 51.8L-25.8 50.9L-25.0 49.6L-24.2 48.2L-23.3 46.6L-22.3 44.7ZM-22.3 44.7L-24.0 46.1L-25.7 47.3L-27.3 48.3L-28.7 49.1L-30.0 49.7L-31.2 50.0L-32.3 50.1L-33.2 49.9L-33.9 49.5L-35.3 48.5L-34.4 49.0L-33.4 49.3L-32.2 49.3L-30.8 49.1L-29.3 48.7L-27.7 48.0L-26.0 47.1L-24.2 46.0L-22.3 44.7ZM-22.3 44.7L-24.8 45.5L-27.3 46.1L-29.6 46.4L-31.8 46.6L-33.9 46.5L-35.9 46.2L-37.7 45.7L-39.3 45.0L-40.8 44.0L-42.0 42.8L-43.3 41.6L-41.9 42.9L-40.3 44.0L-38.6 44.8L-36.6 45.5L-34.6 45.9L-32.3 46.1L-30.0 46.1L-27.5 45.8L-24.9 45.4L-22.3 44.7ZM-22.3 44.7L-25.4 44.8L-28.5 44.7L-31.4 44.4L-34.2 43.8L-36.9 43.1L-39.4 42.1L-41.8 41.0L-44.0 39.6L-45.9 38.0L-47.7 36.2L-49.3 34.2L-50.6 32.1L-51.5 30.6L-50.2 32.9L-48.5 35.0L-46.7 36.9L-44.6 38.6L-42.4 40.1L-40.0 41.4L-37.3 42.5L-34.6 43.3L-31.7 44.0L-28.6 44.4L-25.5 44.7L-22.3 44.7ZM-22.3 44.7L-25.8 44.1L-29.2 43.3L-32.6 42.3L-35.7 41.1L-38.8 39.6L-41.6 38.0L-44.3 36.2L-46.8 34.2L-49.1 32.0L-51.2 29.7L-53.0 27.2L-54.6 24.5L-55.9 21.7L-57.0 18.7L-57.5 17.2L-56.4 20.2L-55.0 23.1L-53.4 25.9L-51.5 28.5L-49.5 30.9L-47.1 33.2L-44.6 35.3L-41.9 37.3L-39.0 39.0L-35.9 40.6L-32.7 41.9L-29.3 43.0L-25.8 44.0L-22.3 44.7ZM-22.3 44.7L-25.9 43.4L-29.5 42.0L-32.9 40.3L-36.2 38.4L-39.4 36.4L-42.4 34.1L-45.1 31.7L-47.7 29.2L-50.1 26.4L-52.2 23.6L-54.1 20.6L-55.8 17.5L-57.1 14.2L-58.3 10.9L-59.1 7.6L-59.7 4.1L-60.0 0.7L-59.9 -2.8L-59.6 -6.4L-59.5 -7.9L-59.8 -4.4L-59.8 -0.8L-59.5 2.7L-59.0 6.2L-58.2 9.6L-57.0 13.0L-55.7 16.3L-54.0 19.4L-52.1 22.5L-50.0 25.5L-47.7 28.3L-45.1 31.0L-42.3 33.5L-39.4 35.8L-36.2 38.0L-32.9 40.0L-29.5 41.7L-25.9 43.3L-22.3 44.7Z" fill="#cbcbcb"/>
<path d="M10.9 -53.3L11.2 -53.7L11.5 -54.0L11.8 -54.3L12.2 -54.6L12.7 -54.8L13.2 -55.0L13.7 -55.1L14.4 -55.2L15.0 -55.3L15.7 -55.3L16.4 -55.3L17.2 -55.2L18.0 -55.1L18.8 -55.0L19.6 -54.8L20.4 -54.6L21.3 -54.4L22.2 -54.1L23.1 -53.8L23.9 -53.5L24.8 -53.1L25.7 -52.7L26.6 -52.3L27.4 -51.8L28.2 -51.3L29.0 -50.8L29.8 -50.3L30.6 -49.8L31.3 -49.2L32.0 -48.7L32.6 -48.1L33.2 -47.6L33.7 -47.0L34.2 -46.4L34.7 -45.8L35.1 -45.3L35.4 -44.7L35.7 -44.2L35.9 -43.7L36.1 -43.1L36.2 -42.6L36.2 -42.2L36.2 -41.7L36.1 -41.3L36.0 -40.9L35.8 -40.5L35.5 -40.2L35.2 -39.8L34.8 -39.6L34.4 -39.3L33.9 -39.1L33.3 -39.0L32.7 -38.9L32.1 -38.8L31.4 -38.7L30.7 -38.7L29.9 -38.8L29.1 -38.9L28.3 -39.0L27.4 -39.2L26.6 -39.4L25.7 -39.6L24.8 -39.9L23.9 -40.2L23.0 -40.6L22.0 -40.9L21.1 -41.3L20.3 -41.8L19.4 -42.3L18.5 -42.8L17.7 -43.3L16.9 -43.8L16.1 -44.3L15.4 -44.9L14.7 -45.5L14.1 -46.1L13.5 -46.6L12.9 -47.2L12.4 -47.8L12.0 -48.4L11.6 -49.0L11.3 -49.5L11.0 -50.1L10.8 -50.6L10.7 -51.1L10.6 -51.6L10.6 -52.1L10.6 -52.5L10.8 -53.0L10.9 -53.3L13.0 -52.8L12.9 -52.4L12.8 -52.1L12.7 -51.7L12.7 -51.3L12.8 -50.9L12.9 -50.4L13.1 -50.0L13.3 -49.5L13.6 -49.1L13.9 -48.6L14.3 -48.1L14.7 -47.6L15.2 -47.1L15.7 -46.6L16.2 -46.1L16.8 -45.6L17.4 -45.1L18.1 -44.7L18.8 -44.2L19.5 -43.8L20.2 -43.4L20.9 -43.0L21.7 -42.6L22.4 -42.3L23.2 -41.9L24.0 -41.6L24.8 -41.4L25.5 -41.1L26.3 -40.9L27.0 -40.7L27.7 -40.6L28.4 -40.5L29.1 -40.4L29.7 -40.4L30.4 -40.4L30.9 -40.4L31.5 -40.5L32.0 -40.6L32.5 -40.7L32.9 -40.9L33.3 -41.1L33.6 -41.3L33.9 -41.6L34.1 -41.9L34.3 -42.2L34.4 -42.5L34.5 -42.9L34.5 -43.3L34.5 -43.7L34.4 -44.1L34.2 -44.5L34.0 -45.0L33.8 -45.4L33.5 -45.9L33.2 -46.4L32.8 -46.9L32.4 -47.4L31.9 -47.9L31.4 -48.3L30.9 -48.8L30.3 -49.3L29.7 -49.7L29.0 -50.2L28.4 -50.6L27.7 -51.1L27.0 -51.5L26.3 -51.8L25.5 -52.2L24.8 -52.6L24.1 -52.9L23.3 -53.2L22.6 -53.4L21.8 -53.7L21.1 -53.9L20.4 -54.0L19.6 -54.2L19.0 -54.3L18.3 -54.4L17.6 -54.4L17.0 -54.4L16.5 -54.4L15.9 -54.4L15.4 -54.3L14.9 -54.2L14.5 -54.0L14.1 -53.8L13.7 -53.6L13.5 -53.3L13.2 -53.1L13.0 -52.8ZM-1.7 -55.4L-1.2 -56.0L-0.7 -56.7L0.0 -57.2L0.8 -57.7L1.7 -58.1L2.6 -58.4L3.7 -58.6L4.8 -58.8L6.1 -58.9L7.4 -59.0L8.7 -58.9L10.1 -58.8L11.6 -58.7L13.1 -58.4L14.7 -58.1L16.2 -57.7L17.8 -57.3L19.5 -56.7L21.1 -56.2L22.7 -55.5L24.3 -54.8L25.9 -54.1L27.5 -53.3L29.1 -52.5L30.6 -51.6L32.1 -50.7L33.6 -49.7L34.9 -48.7L36.3 -47.7L37.5 -46.7L38.7 -45.7L39.8 -44.6L40.8 -43.5L41.8 -42.5L42.6 -41.4L43.4 -40.4L44.0 -39.3L44.6 -38.3L45.0 -37.3L45.3 -36.3L45.5 -35.4L45.6 -34.5L45.6 -33.6L45.5 -32.8L45.2 -32.0L44.9 -31.3L44.4 -30.6L43.8 -30.0L43.1 -29.5L42.3 -29.0L41.4 -28.6L40.3 -28.3L39.2 -28.1L38.0 -27.9L36.7 -27.8L35.4 -27.8L33.9 -27.8L32.4 -28.0L30.9 -28.2L29.2 -28.5L27.6 -28.9L25.9 -29.3L24.2 -29.9L22.5 -30.5L20.7 -31.1L19.0 -31.9L17.3 -32.6L15.6 -33.5L14.0 -34.4L12.3 -35.3L10.8 -36.3L9.3 -37.3L7.8 -38.4L6.4 -39.4L5.1 -40.5L3.9 -41.6L2.8 -42.7L1.8 -43.9L0.9 -45.0L0.1 -46.1L-0.7 -47.1L-1.2 -48.2L-1.7 -49.2L-2.1 -50.3L-2.3 -51.2L-2.4 -52.2L-2.4 -53.0L-2.3 -53.9L-2.1 -54.7L-1.7 -55.4L0.4 -55.2L0.1 -54.5L-0.1 -53.8L-0.2 -53.1L-0.2 -52.2L-0.1 -51.4L0.1 -50.5L0.4 -49.5L0.9 -48.6L1.4 -47.6L2.1 -46.6L2.8 -45.6L3.7 -44.6L4.6 -43.5L5.7 -42.5L6.8 -41.5L8.0 -40.5L9.2 -39.5L10.6 -38.5L12.0 -37.6L13.4 -36.7L14.9 -35.8L16.5 -35.0L18.0 -34.2L19.6 -33.5L21.2 -32.8L22.8 -32.2L24.4 -31.7L25.9 -31.2L27.5 -30.8L29.0 -30.4L30.5 -30.1L32.0 -29.9L33.4 -29.8L34.7 -29.7L35.9 -29.7L37.1 -29.8L38.3 -30.0L39.3 -30.2L40.2 -30.5L41.1 -30.9L41.8 -31.3L42.5 -31.8L43.0 -32.3L43.5 -32.9L43.8 -33.6L44.1 -34.3L44.2 -35.1L44.2 -35.9L44.1 -36.7L43.9 -37.6L43.6 -38.5L43.2 -39.4L42.7 -40.3L42.1 -41.3L41.4 -42.3L40.7 -43.3L39.8 -44.3L38.8 -45.2L37.8 -46.2L36.7 -47.2L35.6 -48.1L34.3 -49.1L33.0 -50.0L31.7 -50.9L30.3 -51.7L28.9 -52.5L27.5 -53.3L26.0 -54.0L24.5 -54.7L23.0 -55.4L21.5 -55.9L20.0 -56.5L18.5 -57.0L17.0 -57.4L15.5 -57.7L14.1 -58.0L12.7 -58.3L11.3 -58.4L10.0 -58.5L8.8 -58.6L7.6 -58.5L6.4 -58.4L5.4 -58.2L4.4 -58.0L3.5 -57.7L2.7 -57.3L2.0 -56.9L1.4 -56.4L0.8 -55.8L0.4 -55.2ZM-14.2 -54.9L-13.5 -55.8L-12.6 -56.7L-11.6 -57.5L-10.5 -58.1L-9.2 -58.7L-7.8 -59.1L-6.3 -59.5L-4.7 -59.8L-2.9 -59.9L-1.1 -60.0L0.3 -60.0L-1.4 -59.9L-3.1 -59.8L-4.7 -59.6L-6.1 -59.2L-7.4 -58.8L-8.7 -58.2L-9.7 -57.6L-10.7 -56.9L-11.5 -56.1L-12.1 -55.2ZM49.6 -33.8L50.5 -32.3L51.3 -30.8L51.9 -29.4L52.4 -28.0L52.7 -26.6L52.9 -25.3L52.9 -24.1L52.7 -22.9L52.4 -21.8L51.9 -20.7L51.2 -19.7L50.4 -18.9L49.4 -18.1L48.3 -17.4L47.0 -16.8L45.5 -16.3L44.0 -15.9L42.2 -15.6L40.4 -15.5L38.5 -15.4L36.4 -15.5L34.3 -15.7L32.0 -15.9L29.7 -16.4L27.3 -16.9L24.9 -17.5L22.5 -18.3L20.0 -19.1L17.5 -20.0L15.0 -21.1L12.6 -22.2L10.1 -23.4L7.8 -24.7L5.4 -26.1L3.2 -27.5L1.0 -28.9L-1.0 -30.4L-3.0 -32.0L-4.9 -33.6L-6.6 -35.2L-8.2 -36.8L-9.6 -38.4L-10.9 -40.0L-12.0 -41.6L-13.0 -43.1L-13.8 -44.7L-14.4 -46.1L-14.9 -47.6L-15.2 -49.0L-15.3 -50.3L-15.3 -51.6L-15.1 -52.8L-14.7 -53.9L-14.2 -54.9L-12.1 -55.2L-12.7 -54.2L-13.0 -53.1L-13.2 -52.0L-13.2 -50.8L-13.1 -49.5L-12.8 -48.2L-12.4 -46.8L-11.7 -45.4L-11.0 -43.9L-10.0 -42.5L-8.9 -40.9L-7.7 -39.4L-6.3 -37.9L-4.8 -36.4L-3.2 -34.9L-1.4 -33.4L0.4 -31.9L2.4 -30.4L4.5 -29.1L6.6 -27.7L8.8 -26.4L11.1 -25.2L13.4 -24.0L15.8 -23.0L18.1 -22.0L20.5 -21.1L22.8 -20.3L25.2 -19.6L27.5 -19.0L29.7 -18.5L31.9 -18.1L34.1 -17.8L36.1 -17.6L38.1 -17.5L39.9 -17.6L41.7 -17.7L43.3 -18.0L44.8 -18.4L46.2 -18.8L47.4 -19.4L48.5 -20.0L49.4 -20.8L50.2 -21.6L50.9 -22.6L51.3 -23.5L51.7 -24.6L51.8 -25.7L51.8 -26.9L51.7 -28.2L51.4 -29.5L50.9 -30.8L50.3 -32.2L49.6 -33.6L48.7 -35.0ZM-25.9 -52.0L-25.0 -53.2L-23.9 -54.2L-22.6 -55.2L-21.1 -56.0L-19.5 -56.7L-17.8 -57.3L-16.2 -57.8L-17.9 -57.2L-19.4 -56.5L-20.8 -55.7L-22.1 -54.8L-23.1 -53.8L-24.0 -52.6ZM57.0 -18.6L57.4 -16.9L57.7 -15.2L57.7 -13.6L57.5 -12.1L57.1 -10.7L56.5 -9.3L55.7 -8.0L54.6 -6.9L53.4 -5.9L52.0 -4.9L50.4 -4.2L48.6 -3.5L46.7 -3.0L44.5 -2.6L42.2 -2.3L39.8 -2.2L37.2 -2.3L34.5 -2.5L31.7 -2.8L28.8 -3.3L25.8 -3.9L22.8 -4.7L19.7 -5.6L16.5 -6.7L13.4 -7.9L10.3 -9.2L7.2 -10.6L4.1 -12.1L1.1 -13.7L-1.8 -15.4L-4.6 -17.2L-7.4 -19.1L-10.0 -21.0L-12.4 -23.0L-14.7 -25.0L-16.9 -27.0L-18.8 -29.0L-20.6 -31.1L-22.2 -33.1L-23.6 -35.1L-24.8 -37.1L-25.8 -39.0L-26.5 -40.9L-27.1 -42.7L-27.4 -44.5L-27.5 -46.2L-27.4 -47.8L-27.1 -49.3L-26.6 -50.7L-25.9 -52.0L-24.0 -52.6L-24.7 -51.4L-25.2 -50.0L-25.5 -48.6L-25.6 -47.0L-25.5 -45.4L-25.1 -43.7L-24.6 -41.9L-23.8 -40.1L-22.9 -38.2L-21.7 -36.3L-20.4 -34.4L-18.8 -32.4L-17.1 -30.4L-15.2 -28.5L-13.1 -26.5L-10.9 -24.6L-8.5 -22.7L-6.0 -20.8L-3.3 -19.0L-0.6 -17.3L2.2 -15.6L5.1 -14.1L8.1 -12.6L11.1 -11.2L14.1 -9.9L17.2 -8.8L20.2 -7.8L23.2 -6.9L26.2 -6.1L29.0 -5.5L31.9 -5.0L34.6 -4.7L37.2 -4.5L39.7 -4.5L42.1 -4.5L44.3 -4.8L46.4 -5.1L48.3 -5.6L50.0 -6.3L51.6 -7.0L52.9 -7.9L54.1 -8.9L55.1 -10.0L55.9 -11.2L56.5 -12.5L56.9 -13.9L57.0 -15.4L57.0 -16.9L56.8 -18.6L56.4 -20.2ZM-36.3 -46.7L-35.2 -48.1L-33.9 -49.4L-32.4 -50.5L-30.7 -51.5L-29.2 -52.4L-30.9 -51.4L-32.3 -50.3L-33.6 -49.1L-34.7 -47.8ZM59.8 -4.6L59.8 -2.7L59.6 -0.9L59.2 0.8L58.5 2.4L57.6 3.9L56.4 5.3L55.0 6.5L53.4 7.6L51.6 8.6L49.5 9.4L47.2 10.1L44.8 10.6L42.1 10.9L39.3 11.1L36.3 11.1L33.2 10.9L29.9 10.5L26.5 10.0L23.0 9.3L19.5 8.4L15.9 7.3L12.3 6.1L8.6 4.8L5.0 3.3L1.4 1.6L-2.2 -0.1L-5.6 -2.0L-9.0 -4.0L-12.3 -6.1L-15.4 -8.3L-18.4 -10.5L-21.3 -12.8L-23.9 -15.2L-26.4 -17.5L-28.7 -19.9L-30.7 -22.3L-32.5 -24.7L-34.1 -27.0L-35.4 -29.3L-36.5 -31.6L-37.3 -33.8L-37.9 -36.0L-38.3 -38.0L-38.4 -40.0L-38.2 -41.8L-37.8 -43.6L-37.2 -45.2L-36.3 -46.7L-34.7 -47.8L-35.5 -46.3L-36.1 -44.7L-36.5 -43.0L-36.7 -41.1L-36.6 -39.2L-36.2 -37.2L-35.6 -35.1L-34.8 -33.0L-33.7 -30.7L-32.4 -28.5L-30.9 -26.2L-29.1 -23.8L-27.1 -21.5L-24.9 -19.2L-22.5 -16.9L-19.9 -14.6L-17.1 -12.3L-14.1 -10.1L-11.1 -8.0L-7.8 -5.9L-4.5 -4.0L-1.1 -2.1L2.4 -0.4L5.9 1.2L9.5 2.7L13.0 4.0L16.6 5.2L20.1 6.2L23.6 7.1L27.0 7.8L30.3 8.3L33.5 8.7L36.6 8.9L39.5 8.9L42.3 8.7L44.9 8.4L47.3 7.9L49.5 7.3L51.5 6.5L53.3 5.6L54.9 4.5L56.3 3.3L57.4 1.9L58.3 0.5L59.0 -1.1L59.5 -2.8L59.7 -4.5L59.6 -6.4ZM-45.0 -39.5L-43.7 -41.1L-42.3 -42.5L-41.0 -43.8L-42.4 -42.4L-43.7 -40.9ZM59.1 10.1L58.6 12.0L57.9 13.8L56.9 15.5L55.6 17.1L54.1 18.5L52.3 19.7L50.3 20.8L48.1 21.8L45.6 22.6L42.9 23.1L40.0 23.6L36.9 23.8L33.7 23.8L30.3 23.6L26.7 23.3L23.0 22.7L19.2 22.0L15.3 21.1L11.4 19.9L7.4 18.7L3.5 17.2L-0.5 15.6L-4.4 13.8L-8.3 11.8L-12.1 9.8L-15.8 7.6L-19.4 5.3L-22.8 2.9L-26.1 0.5L-29.1 -2.1L-32.0 -4.7L-34.7 -7.3L-37.1 -9.9L-39.3 -12.5L-41.2 -15.2L-42.9 -17.7L-44.3 -20.3L-45.5 -22.8L-46.4 -25.2L-47.0 -27.6L-47.3 -29.9L-47.4 -32.0L-47.1 -34.1L-46.7 -36.0L-45.9 -37.9L-45.0 -39.5L-43.7 -40.9L-44.6 -39.2L-45.3 -37.4L-45.8 -35.5L-46.0 -33.5L-45.9 -31.3L-45.6 -29.1L-45.0 -26.8L-44.1 -24.4L-43.0 -21.9L-41.6 -19.4L-39.9 -16.8L-38.0 -14.2L-35.8 -11.6L-33.4 -9.0L-30.8 -6.4L-27.9 -3.9L-24.9 -1.4L-21.6 1.1L-18.2 3.4L-14.7 5.7L-11.1 7.8L-7.3 9.9L-3.5 11.8L0.4 13.5L4.3 15.2L8.3 16.6L12.2 17.9L16.1 19.0L19.9 19.9L23.7 20.7L27.3 21.2L30.8 21.6L34.2 21.7L37.5 21.7L40.5 21.5L43.4 21.1L46.0 20.5L48.5 19.8L50.7 18.9L52.7 17.8L54.4 16.5L55.9 15.1L57.2 13.6L58.2 12.0L58.9 10.2L59.4 8.3ZM54.8 24.5L53.7 26.3L52.4 27.9L50.8 29.4L49.0 30.8L46.9 32.0L44.5 33.0L41.9 33.9L39.1 34.5L36.1 35.0L32.9 35.3L29.5 35.3L26.0 35.2L22.3 34.9L18.4 34.3L14.5 33.6L10.5 32.6L6.4 31.5L2.3 30.2L-1.8 28.7L-5.9 27.0L-10.0 25.2L-14.0 23.2L-18.0 21.0L-21.8 18.7L-25.5 16.4L-29.0 13.9L-32.4 11.3L-35.5 8.7L-38.5 6.0L-41.2 3.2L-43.7 0.5L-46.0 -2.3L-48.0 -5.0L-49.7 -7.8L-51.1 -10.4L-52.3 -13.1L-53.2 -15.6L-53.8 -18.1L-54.1 -20.5L-54.1 -22.8L-53.9 -25.0L-53.3 -27.0L-52.5 -28.9L-51.5 -30.7L-50.6 -32.3L-51.6 -30.5L-52.4 -28.6L-52.9 -26.6L-53.1 -24.4L-53.1 -22.1L-52.8 -19.8L-52.2 -17.3L-51.3 -14.7L-50.2 -12.1L-48.7 -9.4L-47.0 -6.7L-45.0 -4.0L-42.8 -1.2L-40.3 1.5L-37.5 4.2L-34.6 6.9L-31.4 9.5L-28.1 12.1L-24.5 14.6L-20.9 16.9L-17.0 19.2L-13.1 21.3L-9.1 23.3L-5.1 25.2L-1.0 26.9L3.2 28.4L7.3 29.7L11.3 30.8L15.3 31.8L19.3 32.5L23.1 33.0L26.8 33.4L30.3 33.5L33.7 33.5L36.9 33.2L39.9 32.7L42.7 32.1L45.3 31.2L47.6 30.2L49.7 29.0L51.5 27.7L53.1 26.2L54.4 24.6L55.4 22.8ZM46.9 37.4L45.3 38.9L43.4 40.3L41.3 41.5L39.0 42.6L36.4 43.5L33.7 44.1L30.7 44.6L27.5 45.0L24.1 45.1L20.6 45.0L16.9 44.7L13.1 44.2L9.2 43.4L5.2 42.5L1.2 41.4L-2.9 40.1L-7.0 38.7L-11.0 37.0L-15.1 35.2L-19.0 33.2L-22.9 31.1L-26.7 28.9L-30.3 26.5L-33.8 24.0L-37.1 21.5L-40.2 18.8L-43.1 16.2L-45.8 13.4L-48.3 10.7L-50.5 7.9L-52.4 5.2L-54.1 2.4L-55.5 -0.2L-56.6 -2.9L-57.5 -5.5L-58.1 -8.0L-58.3 -10.4L-58.3 -12.7L-58.1 -14.9L-57.5 -16.9L-57.0 -18.7L-57.6 -16.6L-57.8 -14.4L-57.8 -12.1L-57.5 -9.7L-56.9 -7.2L-56.1 -4.6L-55.0 -1.9L-53.5 0.8L-51.9 3.5L-49.9 6.3L-47.7 9.0L-45.2 11.8L-42.5 14.5L-39.6 17.2L-36.4 19.9L-33.1 22.4L-29.6 24.9L-25.9 27.3L-22.1 29.5L-18.2 31.7L-14.3 33.6L-10.2 35.5L-6.1 37.1L-2.0 38.6L2.1 39.9L6.1 41.0L10.1 41.9L14.0 42.7L17.8 43.2L21.5 43.5L25.1 43.6L28.5 43.5L31.7 43.2L34.7 42.7L37.5 42.0L40.0 41.1L42.4 40.1L44.5 38.8L46.3 37.5L47.9 35.9ZM36.1 47.9L34.1 49.1L31.9 50.1L29.4 50.9L26.8 51.6L23.9 52.1L20.9 52.4L17.7 52.6L14.3 52.5L10.9 52.2L7.3 51.8L3.6 51.1L-0.2 50.3L-4.0 49.3L-7.8 48.0L-11.7 46.7L-15.5 45.1L-19.3 43.4L-23.0 41.6L-26.7 39.6L-30.2 37.4L-33.6 35.2L-36.9 32.9L-40.0 30.4L-42.9 28.0L-45.7 25.4L-48.2 22.8L-50.5 20.2L-52.6 17.6L-54.4 14.9L-56.0 12.3L-57.3 9.8L-58.4 7.2L-59.2 4.8L-59.7 2.4L-60.0 0.0L-60.0 -2.2L-59.9 -3.9L-59.9 -1.7L-59.6 0.6L-59.1 3.1L-58.3 5.6L-57.2 8.1L-55.9 10.7L-54.3 13.4L-52.4 16.0L-50.3 18.7L-48.0 21.3L-45.4 23.9L-42.6 26.5L-39.7 29.1L-36.5 31.5L-33.2 33.9L-29.7 36.1L-26.1 38.3L-22.4 40.3L-18.6 42.2L-14.8 43.9L-10.9 45.5L-7.0 46.9L-3.1 48.1L0.7 49.2L4.5 50.0L8.3 50.7L11.9 51.1L15.4 51.4L18.8 51.5L22.0 51.4L25.1 51.0L28.0 50.5L30.7 49.9L33.1 49.0L35.4 48.0L37.4 46.8ZM23.5 55.2L21.2 56.0L18.8 56.6L16.2 57.1L13.5 57.4L10.6 57.5L7.6 57.5L4.5 57.3L1.2 56.9L-2.1 56.3L-5.4 55.5L-8.8 54.6L-12.3 53.6L-15.7 52.3L-19.1 51.0L-22.5 49.4L-25.9 47.8L-29.1 46.0L-32.3 44.1L-35.3 42.1L-38.3 40.0L-41.1 37.8L-43.7 35.6L-46.1 33.3L-48.4 30.9L-50.4 28.6L-52.3 26.2L-53.9 23.8L-55.4 21.5L-56.5 19.1L-57.5 16.8L-58.2 14.6L-58.7 12.4L-59.0 10.7L-58.5 13.0L-57.8 15.3L-56.8 17.6L-55.6 20.0L-54.2 22.4L-52.5 24.8L-50.6 27.3L-48.5 29.7L-46.2 32.1L-43.7 34.4L-41.0 36.7L-38.2 38.9L-35.2 41.1L-32.0 43.1L-28.8 45.1L-25.5 46.9L-22.1 48.6L-18.6 50.1L-15.1 51.6L-11.6 52.8L-8.1 53.9L-4.6 54.8L-1.1 55.6L2.2 56.2L5.5 56.6L8.7 56.8L11.8 56.9L14.8 56.8L17.6 56.5L20.2 56.0L22.7 55.3L24.9 54.5ZM8.0 59.5L5.7 59.7L3.3 59.8L0.7 59.8L-1.9 59.6L-4.7 59.3L-7.5 58.8L-10.3 58.2L-13.2 57.4L-16.1 56.5L-18.9 55.5L-21.8 54.3L-24.7 53.1L-27.5 51.7L-30.2 50.2L-32.9 48.6L-35.4 46.9L-37.9 45.1L-40.2 43.3L-42.4 41.4L-44.5 39.4L-46.4 37.5L-48.1 35.5L-49.7 33.5L-51.1 31.4L-52.3 29.4L-53.3 27.4L-54.0 26.1L-53.0 28.2L-51.7 30.3L-50.3 32.4L-48.7 34.4L-46.9 36.5L-44.9 38.5L-42.8 40.6L-40.5 42.5L-38.1 44.4L-35.5 46.2L-32.9 48.0L-30.1 49.6L-27.3 51.2L-24.4 52.6L-21.5 53.9L-18.5 55.1L-15.5 56.2L-12.5 57.1L-9.5 57.9L-6.6 58.6L-3.7 59.1L-0.9 59.4L1.9 59.6L4.5 59.6L7.0 59.5L9.4 59.2ZM-16.8 57.6L-19.0 56.9L-21.2 56.1L-23.5 55.2L-25.7 54.2L-27.8 53.2L-29.9 52.0L-32.0 50.8L-34.0 49.5L-35.9 48.1L-37.7 46.7L-38.2 46.3L-36.3 47.8L-34.3 49.2L-32.2 50.6L-30.1 51.9L-27.8 53.1L-25.6 54.2L-23.3 55.2L-20.9 56.2L-18.6 57.0L-16.2 57.7ZM-48.7 -35.0L-46.5 -37.9L-44.0 -40.6L-41.3 -43.2L-38.4 -45.5L-35.2 -47.7L-31.9 -49.6L-28.4 -51.2L-24.7 -52.6L-20.9 -53.8L-17.0 -54.7L-13.0 -55.3L-8.9 -55.6L-4.7 -55.7L-0.5 -55.5L3.7 -55.0L7.9 -54.2L12.0 -53.2L16.1 -51.8L20.2 -50.2L24.1 -48.4L24.1 -48.4L20.1 -50.2L16.1 -51.7L11.9 -53.0L7.7 -54.0L3.5 -54.7L-0.8 -55.1L-5.0 -55.3L-9.2 -55.2L-13.3 -54.8L-17.4 -54.1L-21.3 -53.2L-25.2 -52.0L-28.9 -50.5L-32.4 -48.8L-35.8 -46.9L-38.9 -44.7L-41.9 -42.3L-44.6 -39.8L-47.1 -37.0L-49.4 -34.1ZM-26.8 -53.7L-23.6 -55.1L-20.3 -56.3L-16.8 -57.2L-13.2 -57.8L-9.6 -58.2L-5.8 -58.3L-2.0 -58.0L1.8 -57.5L5.6 -56.7L9.4 -55.6L13.2 -54.2L16.9 -52.5L20.5 -50.6L24.1 -48.4L24.1 -48.4L20.5 -50.6L16.7 -52.5L13.0 -54.1L9.1 -55.4L5.2 -56.5L1.3 -57.3L-2.5 -57.8L-6.4 -58.0L-10.2 -57.9L-13.9 -57.5L-17.5 -56.8L-21.1 -55.9L-24.5 -54.7L-27.7 -53.2ZM-7.4 -59.5L-4.3 -59.7L-1.1 -59.7L2.2 -59.3L5.4 -58.6L8.6 -57.6L11.8 -56.3L15.0 -54.8L18.1 -52.9L21.2 -50.8L24.1 -48.4L24.1 -48.4L21.0 -50.8L17.9 -52.9L14.7 -54.7L11.4 -56.3L8.1 -57.5L4.8 -58.5L1.5 -59.2L-1.9 -59.5L-5.1 -59.6L-8.4 -59.4ZM5.0 -59.8L7.6 -59.4L10.1 -58.7L12.6 -57.7L15.0 -56.4L17.4 -54.8L19.7 -53.0L22.0 -50.8L24.1 -48.4L24.1 -48.4L21.8 -50.8L19.5 -53.0L17.0 -54.9L14.5 -56.5L11.9 -57.8L9.3 -58.7L6.7 -59.4L4.1 -59.8ZM13.8 -58.4L15.5 -57.8L17.1 -57.0L18.7 -55.8L20.2 -54.4L21.6 -52.7L22.9 -50.7L24.1 -48.4L24.1 -48.4L22.8 -50.7L21.3 -52.7L19.8 -54.5L18.1 -56.0L16.4 -57.1L14.7 -58.0L12.9 -58.6ZM21.3 -56.1L22.1 -55.5L22.7 -54.6L23.2 -53.5L23.6 -52.1L23.9 -50.4L24.1 -48.4L24.1 -48.4L23.8 -50.4L23.3 -52.2L22.8 -53.6L22.1 -54.8L21.3 -55.7L20.5 -56.4ZM27.2 -53.5L27.0 -53.3L26.7 -52.9L26.2 -52.2L25.7 -51.2L24.9 -49.9L24.1 -48.4L24.1 -48.4L24.8 -50.0L25.4 -51.3L25.8 -52.4L26.1 -53.2L26.3 -53.7L26.3 -53.9ZM32.6 -50.3L31.6 -50.6L30.4 -50.7L29.1 -50.5L27.6 -50.1L25.9 -49.4L24.1 -48.4L24.1 -48.4L25.8 -49.4L27.3 -50.2L28.7 -50.8L29.9 -51.0L31.0 -51.0L31.9 -50.8ZM39.0 -45.6L37.5 -46.7L35.7 -47.6L33.7 -48.2L31.6 -48.6L29.3 -48.8L26.8 -48.7L24.1 -48.4L24.1 -48.4L26.6 -48.8L29.0 -49.0L31.2 -48.9L33.3 -48.6L35.1 -48.0L36.8 -47.2L38.3 -46.2ZM45.3 -39.3L43.4 -41.2L41.3 -42.9L38.9 -44.3L36.3 -45.6L33.5 -46.6L30.6 -47.5L27.4 -48.1L24.1 -48.4L24.1 -48.4L27.3 -48.2L30.4 -47.7L33.3 -46.9L36.0 -46.0L38.5 -44.8L40.8 -43.4L42.8 -41.8L44.7 -40.1ZM52.4 -29.1L50.7 -31.8L48.6 -34.4L46.3 -36.8L43.8 -39.1L41.0 -41.1L38.0 -43.0L34.8 -44.7L31.4 -46.2L27.8 -47.4L24.1 -48.4L24.1 -48.4L27.8 -47.5L31.3 -46.4L34.7 -45.0L37.8 -43.4L40.8 -41.6L43.5 -39.6L46.0 -37.4L48.2 -35.1L50.2 -32.6L52.0 -30.0ZM59.2 -9.9L58.4 -13.4L57.3 -16.9L55.9 -20.2L54.2 -23.5L52.3 -26.7L50.1 -29.8L47.6 -32.8L44.9 -35.6L41.9 -38.2L38.7 -40.7L35.4 -42.9L31.8 -45.0L28.0 -46.8L24.1 -48.4L24.1 -48.4L28.0 -46.9L31.8 -45.1L35.3 -43.2L38.7 -41.0L41.9 -38.6L44.8 -36.1L47.5 -33.3L50.0 -30.5L52.2 -27.4L54.1 -24.3L55.8 -21.1L57.1 -17.8L58.2 -14.4L59.0 -10.9ZM57.0 18.8L57.9 15.3L58.6 11.6L59.0 7.9L59.1 4.1L58.9 0.3L58.5 -3.6L57.7 -7.4L56.6 -11.2L55.3 -15.0L53.7 -18.7L51.7 -22.4L49.6 -25.9L47.1 -29.3L44.4 -32.6L41.5 -35.7L38.4 -38.7L35.1 -41.4L31.6 -44.0L27.9 -46.3L24.1 -48.4L24.1 -48.4L27.9 -46.4L31.6 -44.1L35.2 -41.6L38.5 -38.9L41.7 -36.1L44.6 -33.0L47.3 -29.8L49.8 -26.4L52.0 -23.0L53.9 -19.4L55.5 -15.7L56.9 -12.0L58.0 -8.2L58.8 -4.4L59.3 -0.6L59.4 3.2L59.3 6.9L58.9 10.6L58.3 14.2L57.3 17.8ZM41.1 43.6L43.6 41.0L45.8 38.2L47.8 35.2L49.6 32.0L51.1 28.6L52.4 25.1L53.5 21.4L54.2 17.5L54.8 13.6L55.0 9.6L54.9 5.5L54.6 1.4L54.0 -2.7L53.2 -6.9L52.0 -11.0L50.6 -15.0L48.9 -19.0L47.0 -22.9L44.8 -26.7L42.4 -30.4L39.8 -33.9L37.0 -37.2L34.0 -40.3L30.9 -43.3L27.5 -45.9L24.1 -48.4L24.1 -48.4L27.6 -46.0L31.0 -43.3L34.2 -40.5L37.3 -37.4L40.2 -34.1L42.8 -30.7L45.3 -27.1L47.5 -23.3L49.5 -19.5L51.2 -15.5L52.7 -11.5L53.8 -7.4L54.8 -3.3L55.4 0.8L55.7 4.9L55.8 8.9L55.6 12.9L55.1 16.8L54.3 20.6L53.3 24.3L52.0 27.8L50.5 31.2L48.7 34.4L46.7 37.4L44.5 40.2L42.0 42.8ZM19.5 56.7L22.5 55.5L25.3 54.0L28.0 52.3L30.6 50.2L33.1 47.9L35.4 45.4L37.6 42.6L39.5 39.5L41.3 36.3L42.9 32.8L44.3 29.2L45.5 25.3L46.4 21.4L47.1 17.3L47.6 13.1L47.8 8.9L47.8 4.5L47.5 0.2L47.0 -4.2L46.2 -8.5L45.2 -12.8L44.0 -17.0L42.5 -21.2L40.9 -25.2L39.0 -29.1L36.9 -32.8L34.7 -36.3L32.2 -39.7L29.7 -42.8L26.9 -45.7L24.1 -48.4L24.1 -48.4L27.0 -45.8L29.9 -42.9L32.5 -39.8L35.1 -36.4L37.4 -32.9L39.6 -29.2L41.5 -25.3L43.3 -21.3L44.8 -17.2L46.1 -13.0L47.2 -8.8L48.0 -4.4L48.6 -0.1L48.9 4.2L49.0 8.5L48.8 12.8L48.4 16.9L47.8 21.0L46.8 24.9L45.7 28.7L44.3 32.3L42.8 35.8L41.0 39.0L39.0 42.1L36.8 44.9L34.5 47.4L32.0 49.7L29.3 51.8L26.6 53.6L23.7 55.1L20.7 56.3ZM5.1 59.7L7.6 59.2L10.1 58.3L12.6 57.2L15.1 55.7L17.5 54.0L19.8 52.0L22.0 49.7L24.2 47.1L26.2 44.3L28.1 41.2L29.9 37.9L31.6 34.4L33.0 30.7L34.4 26.8L35.5 22.8L36.5 18.6L37.3 14.3L37.9 10.0L38.3 5.6L38.4 1.1L38.4 -3.3L38.2 -7.8L37.8 -12.2L37.2 -16.5L36.4 -20.7L35.5 -24.8L34.3 -28.8L33.0 -32.6L31.5 -36.2L29.8 -39.6L28.1 -42.8L26.1 -45.7L24.1 -48.4L24.1 -48.4L26.3 -45.7L28.3 -42.8L30.2 -39.6L32.0 -36.2L33.6 -32.6L35.1 -28.8L36.3 -24.8L37.4 -20.7L38.3 -16.5L39.0 -12.2L39.5 -7.8L39.8 -3.3L39.9 1.1L39.8 5.6L39.5 10.0L38.9 14.3L38.2 18.6L37.3 22.8L36.2 26.8L34.9 30.7L33.4 34.4L31.8 37.9L30.0 41.2L28.0 44.2L26.0 47.0L23.8 49.6L21.5 51.9L19.2 53.9L16.7 55.6L14.2 57.1L11.6 58.2L9.0 59.1L6.4 59.6ZM-8.6 59.4L-6.8 59.4L-5.0 59.1L-3.1 58.5L-1.1 57.6L0.8 56.4L2.8 54.9L4.8 53.1L6.7 51.1L8.7 48.7L10.6 46.1L12.5 43.2L14.3 40.1L16.1 36.8L17.8 33.2L19.4 29.5L20.9 25.6L22.3 21.5L23.6 17.3L24.8 13.1L25.8 8.7L26.7 4.3L27.5 -0.1L28.1 -4.6L28.6 -9.0L28.9 -13.3L29.1 -17.5L29.1 -21.7L29.0 -25.7L28.7 -29.6L28.3 -33.2L27.7 -36.7L27.0 -40.0L26.2 -43.1L25.2 -45.9L24.1 -48.4L24.1 -48.4L25.3 -45.8L26.4 -43.0L27.4 -39.9L28.3 -36.6L29.0 -33.1L29.6 -29.4L30.0 -25.5L30.2 -21.5L30.4 -17.3L30.3 -13.0L30.1 -8.7L29.7 -4.3L29.2 0.2L28.5 4.6L27.7 9.0L26.7 13.4L25.6 17.7L24.4 21.9L23.0 25.9L21.5 29.9L19.9 33.6L18.2 37.1L16.5 40.5L14.6 43.6L12.7 46.4L10.8 49.0L8.8 51.4L6.7 53.4L4.7 55.2L2.6 56.7L0.6 57.8L-1.4 58.7L-3.4 59.3L-5.4 59.6L-7.3 59.5ZM-18.9 57.0L-17.9 57.0L-16.9 56.8L-15.8 56.4L-14.7 55.6L-13.4 54.5L-12.0 53.2L-10.6 51.5L-9.1 49.6L-7.5 47.4L-5.9 45.0L-4.3 42.3L-2.6 39.4L-0.8 36.2L0.9 32.8L2.6 29.2L4.4 25.5L6.1 21.6L7.8 17.6L9.4 13.5L11.0 9.3L12.6 5.0L14.1 0.8L15.5 -3.5L16.8 -7.8L18.0 -12.0L19.2 -16.1L20.2 -20.1L21.1 -24.0L21.9 -27.8L22.6 -31.4L23.2 -34.8L23.6 -38.0L23.9 -40.9L24.1 -43.7L24.2 -46.2L24.1 -48.4L24.1 -48.4L24.3 -46.1L24.4 -43.6L24.4 -40.8L24.2 -37.7L23.9 -34.5L23.5 -31.0L23.0 -27.4L22.3 -23.6L21.5 -19.7L20.6 -15.6L19.6 -11.4L18.5 -7.2L17.3 -2.9L15.9 1.4L14.5 5.7L13.1 10.0L11.5 14.2L9.9 18.3L8.3 22.4L6.6 26.3L4.9 30.0L3.2 33.6L1.4 36.9L-0.3 40.1L-2.0 43.0L-3.7 45.7L-5.4 48.1L-7.0 50.3L-8.6 52.2L-10.1 53.8L-11.6 55.1L-12.9 56.1L-14.2 56.9L-15.4 57.3L-16.6 57.5L-17.6 57.4ZM-27.3 53.4L-27.3 53.1L-27.1 52.6L-26.8 51.8L-26.3 50.7L-25.7 49.3L-24.9 47.7L-24.0 45.9L-23.0 43.7L-21.9 41.4L-20.6 38.8L-19.2 35.9L-17.7 32.9L-16.2 29.7L-14.5 26.3L-12.7 22.7L-10.8 19.0L-8.9 15.2L-7.0 11.3L-4.9 7.3L-2.9 3.3L-0.8 -0.7L1.2 -4.8L3.3 -8.8L5.3 -12.7L7.3 -16.6L9.3 -20.4L11.2 -24.0L13.0 -27.6L14.7 -30.9L16.4 -34.1L18.0 -37.0L19.4 -39.8L20.8 -42.3L22.0 -44.6L23.1 -46.6L24.1 -48.4L24.1 -48.4L23.3 -46.5L22.3 -44.4L21.2 -42.1L20.0 -39.5L18.7 -36.7L17.3 -33.6L15.8 -30.4L14.2 -27.0L12.5 -23.4L10.7 -19.7L8.9 -15.8L7.0 -11.9L5.0 -7.9L3.1 -3.8L1.1 0.2L-0.9 4.3L-2.9 8.4L-4.8 12.4L-6.8 16.3L-8.6 20.1L-10.5 23.8L-12.3 27.4L-13.9 30.8L-15.6 34.0L-17.1 37.0L-18.5 39.8L-19.8 42.4L-21.0 44.7L-22.1 46.8L-23.1 48.6L-23.9 50.2L-24.6 51.5L-25.2 52.5L-25.6 53.3L-25.9 53.8L-26.1 54.0ZM-35.2 48.6L-35.9 47.9L-36.4 46.9L-36.8 45.6L-37.0 44.1L-37.0 42.4L-36.8 40.5L-36.5 38.3L-35.9 35.9L-35.2 33.3L-34.2 30.5L-33.1 27.6L-31.8 24.4L-30.3 21.1L-28.7 17.7L-26.9 14.2L-24.9 10.6L-22.8 6.9L-20.6 3.1L-18.3 -0.6L-15.9 -4.4L-13.3 -8.2L-10.7 -11.9L-8.1 -15.5L-5.4 -19.1L-2.7 -22.5L0.0 -25.8L2.7 -29.0L5.4 -32.0L8.0 -34.8L10.6 -37.5L13.1 -39.9L15.5 -42.1L17.8 -44.0L20.1 -45.7L22.1 -47.2L24.1 -48.4L24.1 -48.4L22.3 -47.1L20.3 -45.5L18.3 -43.7L16.1 -41.7L13.8 -39.4L11.4 -36.9L9.0 -34.2L6.5 -31.3L3.9 -28.2L1.3 -25.0L-1.3 -21.6L-3.9 -18.1L-6.5 -14.5L-9.1 -10.8L-11.6 -7.0L-14.1 -3.2L-16.4 0.6L-18.7 4.4L-20.9 8.2L-23.0 11.9L-24.9 15.5L-26.7 19.1L-28.4 22.5L-29.9 25.8L-31.2 28.9L-32.3 31.8L-33.3 34.6L-34.1 37.2L-34.7 39.5L-35.2 41.6L-35.4 43.5L-35.5 45.2L-35.4 46.6L-35.1 47.8L-34.7 48.7L-34.1 49.4ZM-43.1 41.7L-44.3 40.2L-45.3 38.5L-46.0 36.5L-46.5 34.4L-46.8 32.0L-46.9 29.5L-46.7 26.8L-46.3 24.0L-45.6 21.0L-44.7 17.8L-43.6 14.6L-42.2 11.3L-40.6 7.8L-38.8 4.4L-36.8 0.8L-34.6 -2.7L-32.1 -6.2L-29.5 -9.8L-26.8 -13.2L-23.9 -16.6L-20.9 -20.0L-17.7 -23.2L-14.5 -26.3L-11.2 -29.2L-7.9 -32.0L-4.5 -34.6L-1.1 -37.1L2.3 -39.3L5.6 -41.3L8.9 -43.1L12.2 -44.6L15.3 -45.9L18.4 -47.0L21.3 -47.8L24.1 -48.4L24.1 -48.4L21.4 -47.7L18.6 -46.8L15.7 -45.7L12.6 -44.2L9.5 -42.6L6.3 -40.7L3.0 -38.6L-0.2 -36.3L-3.5 -33.8L-6.8 -31.1L-10.1 -28.2L-13.3 -25.2L-16.5 -22.0L-19.5 -18.7L-22.5 -15.4L-25.3 -11.9L-28.1 -8.4L-30.6 -4.8L-33.0 -1.3L-35.2 2.3L-37.2 5.8L-39.1 9.3L-40.7 12.8L-42.0 16.1L-43.2 19.3L-44.1 22.4L-44.8 25.4L-45.3 28.2L-45.5 30.9L-45.5 33.3L-45.3 35.6L-44.8 37.7L-44.1 39.5L-43.3 41.2L-42.2 42.6ZM-51.4 30.8L-52.6 28.4L-53.5 25.8L-54.1 23.1L-54.5 20.2L-54.6 17.2L-54.4 14.1L-53.9 10.9L-53.2 7.6L-52.2 4.3L-50.9 0.9L-49.4 -2.5L-47.5 -5.9L-45.5 -9.4L-43.2 -12.7L-40.6 -16.0L-37.9 -19.3L-34.9 -22.4L-31.7 -25.5L-28.4 -28.4L-24.9 -31.2L-21.3 -33.8L-17.6 -36.2L-13.8 -38.5L-9.9 -40.5L-6.0 -42.3L-2.1 -43.9L1.8 -45.3L5.7 -46.4L9.6 -47.3L13.4 -48.0L17.1 -48.4L20.6 -48.5L24.1 -48.4L24.1 -48.4L20.7 -48.4L17.2 -48.2L13.6 -47.7L9.9 -46.9L6.1 -45.9L2.3 -44.7L-1.6 -43.3L-5.4 -41.6L-9.3 -39.7L-13.1 -37.5L-16.8 -35.2L-20.5 -32.7L-24.1 -30.0L-27.5 -27.2L-30.8 -24.2L-33.9 -21.1L-36.8 -17.9L-39.6 -14.6L-42.1 -11.3L-44.4 -7.9L-46.5 -4.4L-48.3 -1.0L-49.9 2.4L-51.2 5.8L-52.2 9.1L-52.9 12.4L-53.4 15.5L-53.6 18.6L-53.6 21.6L-53.2 24.4L-52.6 27.1L-51.8 29.6L-50.7 31.9ZM-57.4 17.4L-58.2 14.3L-58.8 11.1L-59.0 7.8L-59.0 4.5L-58.6 1.1L-58.0 -2.3L-57.1 -5.7L-55.8 -9.2L-54.3 -12.6L-52.5 -15.9L-50.5 -19.2L-48.1 -22.4L-45.5 -25.5L-42.7 -28.5L-39.6 -31.3L-36.3 -34.0L-32.9 -36.5L-29.2 -38.9L-25.4 -41.0L-21.5 -43.0L-17.4 -44.7L-13.3 -46.2L-9.1 -47.4L-4.8 -48.4L-0.5 -49.2L3.7 -49.7L7.9 -49.9L12.1 -49.9L16.2 -49.7L20.2 -49.2L24.1 -48.4L24.1 -48.4L20.3 -49.1L16.3 -49.5L12.3 -49.7L8.1 -49.6L3.9 -49.2L-0.3 -48.6L-4.5 -47.8L-8.7 -46.7L-12.9 -45.4L-17.0 -43.8L-21.1 -42.0L-25.0 -40.0L-28.8 -37.8L-32.4 -35.4L-35.9 -32.8L-39.1 -30.0L-42.2 -27.2L-45.0 -24.1L-47.6 -21.0L-50.0 -17.8L-52.0 -14.5L-53.8 -11.1L-55.4 -7.7L-56.6 -4.3L-57.5 -0.9L-58.2 2.5L-58.5 5.8L-58.6 9.1L-58.4 12.4L-57.8 15.5L-57.0 18.6ZM-59.5 -7.7L-58.9 -11.2L-58.0 -14.7L-56.8 -18.1L-55.3 -21.5L-53.5 -24.8L-51.5 -27.9L-49.2 -31.0L-46.6 -33.9L-43.8 -36.6L-40.7 -39.2L-37.5 -41.5L-34.0 -43.7L-30.4 -45.7L-26.5 -47.4L-22.6 -48.9L-18.5 -50.2L-14.3 -51.2L-10.0 -52.0L-5.7 -52.4L-1.3 -52.7L3.0 -52.6L7.4 -52.3L11.7 -51.7L15.9 -50.9L20.1 -49.8L24.1 -48.4L24.1 -48.4L20.1 -49.7L15.9 -50.7L11.7 -51.5L7.4 -52.0L3.0 -52.2L-1.3 -52.2L-5.7 -51.9L-10.0 -51.3L-14.3 -50.5L-18.5 -49.4L-22.6 -48.1L-26.6 -46.6L-30.4 -44.8L-34.0 -42.7L-37.5 -40.5L-40.8 -38.1L-43.9 -35.5L-46.7 -32.7L-49.3 -29.8L-51.6 -26.7L-53.6 -23.6L-55.4 -20.3L-56.9 -16.9L-58.1 -13.5L-59.0 -10.0L-59.6 -6.5Z" fill="#383838"/>
</g>
</defs>
<ellipse cx="418.65" cy="605.8" rx="446.3" ry="95.5" fill="#c8b56f"/>
<g><rect x="-4.60" y="-4.60" width="9.2" height="9.2" rx="2.0" fill="#621b11" transform="translate(197.6 60.4) rotate(20)"/>
<rect x="-4.60" y="-4.60" width="9.2" height="9.2" rx="2.0" fill="#d4692a" transform="translate(217.9 58.8) rotate(45)"/>
<rect x="-4.60" y="-4.60" width="9.2" height="9.2" rx="2.0" fill="#a85027" transform="translate(239.4 56.2) rotate(5)"/>
<rect x="-4.60" y="-4.60" width="9.2" height="9.2" rx="2.0" fill="#6f5719" transform="translate(259 54.1) rotate(-5)"/>
<rect x="-4.60" y="-4.60" width="9.2" height="9.2" rx="2.0" fill="#d4692a" transform="translate(279.5 52.3) rotate(15)"/>
<rect x="-4.60" y="-4.60" width="9.2" height="9.2" rx="2.0" fill="#6f5719" transform="translate(289.2 51.6) rotate(-5)"/>
<rect x="-4.60" y="-4.60" width="9.2" height="9.2" rx="2.0" fill="#d4692a" transform="translate(309.7 50) rotate(10)"/>
<rect x="-4.60" y="-4.60" width="9.2" height="9.2" rx="2.0" fill="#621b11" transform="translate(331.1 48.7) rotate(45)"/>
<rect x="-4.60" y="-4.60" width="9.2" height="9.2" rx="2.0" fill="#a85027" transform="translate(352.3 47.9) rotate(-10)"/>
<rect x="-4.60" y="-4.60" width="9.2" height="9.2" rx="2.0" fill="#621b11" transform="translate(374.1 47.3) rotate(25)"/>
<rect x="-4.60" y="-4.60" width="9.2" height="9.2" rx="2.0" fill="#d4692a" transform="translate(395.7 46.8) rotate(45)"/>
<rect x="-4.60" y="-4.60" width="9.2" height="9.2" rx="2.0" fill="#a85027" transform="translate(417.3 46.8) rotate(5)"/>
<rect x="-4.60" y="-4.60" width="9.2" height="9.2" rx="2.0" fill="#6f5719" transform="translate(437.1 46.8) rotate(0)"/>
<rect x="-4.60" y="-4.60" width="9.2" height="9.2" rx="2.0" fill="#d4692a" transform="translate(457.4 47.1) rotate(20)"/>
<rect x="-4.60" y="-4.60" width="9.2" height="9.2" rx="2.0" fill="#6f5719" transform="translate(467.3 47.3) rotate(0)"/>
<rect x="-4.60" y="-4.60" width="9.2" height="9.2" rx="2.0" fill="#d4692a" transform="translate(487.8 48.1) rotate(15)"/>
<rect x="-4.60" y="-4.60" width="9.2" height="9.2" rx="2.0" fill="#621b11" transform="translate(506.5 48.3) rotate(35)"/>
<rect x="-4.60" y="-4.60" width="9.2" height="9.2" rx="2.0" fill="#d4692a" transform="translate(664.9 66) rotate(25)"/>
<rect x="-4.60" y="-4.60" width="9.2" height="9.2" rx="2.0" fill="#621b11" transform="translate(686.1 70) rotate(20)"/>
<rect x="-4.60" y="-4.60" width="9.2" height="9.2" rx="2.0" fill="#a85027" transform="translate(706.9 74.9) rotate(5)"/>
<rect x="-4.60" y="-4.60" width="9.2" height="9.2" rx="2.0" fill="#621b11" transform="translate(727.4 80.4) rotate(45)"/>
<rect x="-4.60" y="-4.60" width="9.2" height="9.2" rx="2.0" fill="#d4692a" transform="translate(748.4 87.2) rotate(15)"/>
<rect x="-4.60" y="-4.60" width="9.2" height="9.2" rx="2.0" fill="#a85027" transform="translate(768 95.9) rotate(35)"/>
<rect x="-4.60" y="-4.60" width="9.2" height="9.2" rx="2.0" fill="#6f5719" transform="translate(785 106.1) rotate(45)"/>
<rect x="-4.60" y="-4.60" width="9.2" height="9.2" rx="2.0" fill="#d4692a" transform="translate(797.5 121.9) rotate(5)"/>
<rect x="-4.60" y="-4.60" width="9.2" height="9.2" rx="2.0" fill="#6f5719" transform="translate(797.5 132) rotate(10)"/>
<rect x="-4.60" y="-4.60" width="9.2" height="9.2" rx="2.0" fill="#d4692a" transform="translate(785.7 147.8) rotate(20)"/>
<rect x="-4.60" y="-4.60" width="9.2" height="9.2" rx="2.0" fill="#621b11" transform="translate(767.3 159.2) rotate(30)"/><rect x="-4.60" y="-4.60" width="9.2" height="9.2" rx="2.0" fill="#d4692a" transform="translate(49 108.8) rotate(5)"/>
<rect x="-4.60" y="-4.60" width="9.2" height="9.2" rx="2.0" fill="#621b11" transform="translate(38.7 127.1) rotate(25)"/>
<rect x="-4.60" y="-4.60" width="9.2" height="9.2" rx="2.0" fill="#a85027" transform="translate(48.4 145.4) rotate(30)"/>
<rect x="-4.60" y="-4.60" width="9.2" height="9.2" rx="2.0" fill="#621b11" transform="translate(66.1 157.6) rotate(-10)"/>
<rect x="-4.60" y="-4.60" width="9.2" height="9.2" rx="2.0" fill="#d4692a" transform="translate(85.6 166.5) rotate(35)"/>
<rect x="-4.60" y="-4.60" width="9.2" height="9.2" rx="2.0" fill="#6f5719" transform="translate(104.7 173) rotate(15)"/>
<rect x="-4.60" y="-4.60" width="9.2" height="9.2" rx="2.0" fill="#d4692a" transform="translate(114.4 175.8) rotate(30)"/>
<rect x="-4.60" y="-4.60" width="9.2" height="9.2" rx="2.0" fill="#6f5719" transform="translate(134.1 181.1) rotate(5)"/>
<rect x="-4.60" y="-4.60" width="9.2" height="9.2" rx="2.0" fill="#a85027" transform="translate(153.6 185.2) rotate(20)"/>
<rect x="-4.60" y="-4.60" width="9.2" height="9.2" rx="2.0" fill="#d4692a" transform="translate(174.8 189.4) rotate(35)"/><rect x="-5.00" y="-5.00" width="10" height="10" rx="2.2" fill="#d4692a" transform="translate(608.4 201) rotate(5)"/>
<rect x="-5.90" y="-5.90" width="11.8" height="11.8" rx="2.6" fill="#6f5719" transform="translate(583.8 207.7) rotate(-20)"/>
<rect x="-5.90" y="-5.90" width="11.8" height="11.8" rx="2.6" fill="#a85027" transform="translate(559.1 215.6) rotate(-10)"/>
<rect x="-5.90" y="-5.90" width="11.8" height="11.8" rx="2.6" fill="#d4692a" transform="translate(533.3 225.5) rotate(25)"/>
<rect x="-5.90" y="-5.90" width="11.8" height="11.8" rx="2.6" fill="#621b11" transform="translate(508.1 238.3) rotate(0)"/>
<rect x="-5.90" y="-5.90" width="11.8" height="11.8" rx="2.6" fill="#a85027" transform="translate(484.5 252.6) rotate(45)"/>
<rect x="-5.90" y="-5.90" width="11.8" height="11.8" rx="2.6" fill="#621b11" transform="translate(463.4 269.8) rotate(5)"/>
<rect x="-5.90" y="-5.90" width="11.8" height="11.8" rx="2.6" fill="#d4692a" transform="translate(444.3 290.5) rotate(-30)"/>
<rect x="-5.90" y="-5.90" width="11.8" height="11.8" rx="2.6" fill="#6f5719" transform="translate(430.4 312) rotate(-25)"/>
<rect x="-5.90" y="-5.90" width="11.8" height="11.8" rx="2.6" fill="#d4692a" transform="translate(425.1 324.1) rotate(-30)"/>
<rect x="-5.90" y="-5.90" width="11.8" height="11.8" rx="2.6" fill="#6f5719" transform="translate(417.4 349) rotate(10)"/>
<rect x="-5.90" y="-5.90" width="11.8" height="11.8" rx="2.6" fill="#a85027" transform="translate(414.8 373.5) rotate(10)"/>
<rect x="-5.90" y="-5.90" width="11.8" height="11.8" rx="2.6" fill="#d4692a" transform="translate(415.7 402.5) rotate(30)"/>
<rect x="-5.90" y="-5.90" width="11.8" height="11.8" rx="2.6" fill="#621b11" transform="translate(420.8 429.9) rotate(5)"/>
<rect x="-5.90" y="-5.90" width="11.8" height="11.8" rx="2.6" fill="#a85027" transform="translate(428.9 456.2) rotate(-20)"/>
<rect x="-5.90" y="-5.90" width="11.8" height="11.8" rx="2.6" fill="#621b11" transform="translate(439.4 481.5) rotate(20)"/>
<rect x="-5.90" y="-5.90" width="11.8" height="11.8" rx="2.6" fill="#d4692a" transform="translate(452.5 506.3) rotate(-10)"/>
<rect x="-5.90" y="-5.90" width="11.8" height="11.8" rx="2.6" fill="#6f5719" transform="translate(466.4 528.6) rotate(30)"/><rect x="-4.60" y="-4.60" width="9.2" height="9.2" rx="2.0" fill="#d4692a" transform="translate(340.7 207.7) rotate(45)"/>
<rect x="-4.60" y="-4.60" width="9.2" height="9.2" rx="2.0" fill="#d4692a" transform="translate(352.1 206.8) rotate(40)"/>
<rect x="-4.60" y="-4.60" width="9.2" height="9.2" rx="2.0" fill="#621b11" transform="translate(373.9 207.7) rotate(25)"/>
<rect x="-4.60" y="-4.60" width="9.2" height="9.2" rx="2.0" fill="#a85027" transform="translate(395.2 208.1) rotate(-8)"/>
<rect x="-4.60" y="-4.60" width="9.2" height="9.2" rx="2.0" fill="#621b11" transform="translate(416.4 208.1) rotate(40)"/>
<rect x="-4.60" y="-4.60" width="9.2" height="9.2" rx="2.0" fill="#d4692a" transform="translate(438.2 208.1) rotate(15)"/>
<rect x="-4.60" y="-4.60" width="9.2" height="9.2" rx="2.0" fill="#6f5719" transform="translate(458.2 207.7) rotate(0)"/>
<rect x="-4.60" y="-4.60" width="9.2" height="9.2" rx="2.0" fill="#d4692a" transform="translate(468.4 207.5) rotate(10)"/>
<rect x="-4.60" y="-4.60" width="9.2" height="9.2" rx="2.0" fill="#6f5719" transform="translate(488.8 206.8) rotate(0)"/>
<rect x="-4.60" y="-4.60" width="9.2" height="9.2" rx="2.0" fill="#a85027" transform="translate(508.8 206) rotate(5)"/>
<rect x="-4.60" y="-4.60" width="9.2" height="9.2" rx="2.0" fill="#d4692a" transform="translate(530.1 204.7) rotate(40)"/>
<rect x="-4.60" y="-4.60" width="9.2" height="9.2" rx="2.0" fill="#621b11" transform="translate(552 202.9) rotate(20)"/>
<rect x="-4.60" y="-4.60" width="9.2" height="9.2" rx="2.0" fill="#a85027" transform="translate(572.9 201.2) rotate(-15)"/>
<rect x="-4.60" y="-4.60" width="9.2" height="9.2" rx="2.0" fill="#621b11" transform="translate(594.3 199.1) rotate(40)"/>
<rect x="-4.60" y="-4.60" width="9.2" height="9.2" rx="2.0" fill="#d4692a" transform="translate(616.1 196.6) rotate(10)"/><rect x="-4.60" y="-4.60" width="9.2" height="9.2" rx="2.0" fill="#6f5719" transform="translate(358.8 215.2) rotate(20)"/>
<rect x="-4.60" y="-4.60" width="9.2" height="9.2" rx="2.0" fill="#a85027" transform="translate(376.2 223.2) rotate(35)"/>
<rect x="-4.60" y="-4.60" width="9.2" height="9.2" rx="2.0" fill="#d4692a" transform="translate(394.6 232.8) rotate(5)"/>
<rect x="-4.60" y="-4.60" width="9.2" height="9.2" rx="2.0" fill="#621b11" transform="translate(412.6 243.7) rotate(30)"/>
<rect x="-4.60" y="-4.60" width="9.2" height="9.2" rx="2.0" fill="#a85027" transform="translate(429.1 256.2) rotate(30)"/>
<rect x="-4.60" y="-4.60" width="9.2" height="9.2" rx="2.0" fill="#621b11" transform="translate(444.1 269.8) rotate(10)"/>
<rect x="-4.60" y="-4.60" width="9.2" height="9.2" rx="2.0" fill="#d4692a" transform="translate(456.9 286.4) rotate(-15)"/>
<rect x="-4.60" y="-4.60" width="9.2" height="9.2" rx="2.0" fill="#6f5719" transform="translate(465.6 303.6) rotate(-20)"/>
<rect x="-4.60" y="-4.60" width="9.2" height="9.2" rx="2.0" fill="#d4692a" transform="translate(468.4 312.9) rotate(5)"/>
<rect x="-4.60" y="-4.60" width="9.2" height="9.2" rx="2.0" fill="#6f5719" transform="translate(469.4 332.5) rotate(-5)"/>
<rect x="-4.60" y="-4.60" width="9.2" height="9.2" rx="2.0" fill="#a85027" transform="translate(466.2 351.3) rotate(25)"/>
<rect x="-4.60" y="-4.60" width="9.2" height="9.2" rx="2.0" fill="#d4692a" transform="translate(458.1 370) rotate(-10)"/>
<rect x="-4.60" y="-4.60" width="9.2" height="9.2" rx="2.0" fill="#621b11" transform="translate(446.8 388) rotate(25)"/>
<rect x="-4.60" y="-4.60" width="9.2" height="9.2" rx="2.0" fill="#a85027" transform="translate(434.4 403.5) rotate(25)"/>
<rect x="-4.60" y="-4.60" width="9.2" height="9.2" rx="2.0" fill="#621b11" transform="translate(420 418.2) rotate(5)"/>
<rect x="-4.60" y="-4.60" width="9.2" height="9.2" rx="2.0" fill="#d4692a" transform="translate(404.4 432.4) rotate(20)"/>
<rect x="-4.60" y="-4.60" width="9.2" height="9.2" rx="2.0" fill="#6f5719" transform="translate(389.3 444.7) rotate(30)"/>
<rect x="-4.60" y="-4.60" width="9.2" height="9.2" rx="2.0" fill="#d4692a" transform="translate(381.7 450.7) rotate(15)"/>
<rect x="-4.60" y="-4.60" width="9.2" height="9.2" rx="2.0" fill="#6f5719" transform="translate(365.7 461.9) rotate(35)"/>
<rect x="-4.60" y="-4.60" width="9.2" height="9.2" rx="2.0" fill="#a85027" transform="translate(349.8 472.9) rotate(20)"/>
<rect x="-4.60" y="-4.60" width="9.2" height="9.2" rx="2.0" fill="#d4692a" transform="translate(332.2 483.8) rotate(20)"/>
<rect x="-4.60" y="-4.60" width="9.2" height="9.2" rx="2.0" fill="#621b11" transform="translate(313.8 494.6) rotate(0)"/>
<rect x="-4.60" y="-4.60" width="9.2" height="9.2" rx="2.0" fill="#a85027" transform="translate(296.4 504.3) rotate(30)"/>
<rect x="-4.60" y="-4.60" width="9.2" height="9.2" rx="2.0" fill="#621b11" transform="translate(278 513.9) rotate(25)"/>
<rect x="-4.60" y="-4.60" width="9.2" height="9.2" rx="2.0" fill="#d4692a" transform="translate(259.6 523.2) rotate(10)"/>
<rect x="-4.60" y="-4.60" width="9.2" height="9.2" rx="2.0" fill="#6f5719" transform="translate(242.4 531.1) rotate(25)"/><rect x="-3.45" y="-3.45" width="6.9" height="6.9" rx="1.5" fill="#a85027" transform="translate(297.1 266.5) rotate(30)"/>
<rect x="-3.45" y="-3.45" width="6.9" height="6.9" rx="1.5" fill="#621b11" transform="translate(303.8 279.8) rotate(20)"/>
<rect x="-3.45" y="-3.45" width="6.9" height="6.9" rx="1.5" fill="#d4692a" transform="translate(311.7 292.3) rotate(20)"/>
<rect x="-3.45" y="-3.45" width="6.9" height="6.9" rx="1.5" fill="#6f5719" transform="translate(320 303.1) rotate(30)"/>
<rect x="-3.45" y="-3.45" width="6.9" height="6.9" rx="1.5" fill="#d4692a" transform="translate(324.4 308.8) rotate(20)"/>
<rect x="-3.45" y="-3.45" width="6.9" height="6.9" rx="1.5" fill="#6f5719" transform="translate(333.6 319.3) rotate(40)"/>
<rect x="-3.45" y="-3.45" width="6.9" height="6.9" rx="1.5" fill="#a85027" transform="translate(343 329.3) rotate(30)"/>
<rect x="-3.45" y="-3.45" width="6.9" height="6.9" rx="1.5" fill="#d4692a" transform="translate(353.1 339.7) rotate(10)"/>
<rect x="-3.45" y="-3.45" width="6.9" height="6.9" rx="1.5" fill="#621b11" transform="translate(363.8 350.1) rotate(30)"/>
<rect x="-3.45" y="-3.45" width="6.9" height="6.9" rx="1.5" fill="#a85027" transform="translate(374.5 360) rotate(35)"/>
<rect x="-3.45" y="-3.45" width="6.9" height="6.9" rx="1.5" fill="#621b11" transform="translate(385.4 369.8) rotate(10)"/>
<rect x="-3.45" y="-3.45" width="6.9" height="6.9" rx="1.5" fill="#d4692a" transform="translate(396.6 379.5) rotate(25)"/>
<rect x="-3.45" y="-3.45" width="6.9" height="6.9" rx="1.5" fill="#6f5719" transform="translate(407.5 388.6) rotate(30)"/>
<rect x="-3.45" y="-3.45" width="6.9" height="6.9" rx="1.5" fill="#6f5719" transform="translate(412.9 392.3) rotate(20)"/>
<rect x="-3.45" y="-3.45" width="6.9" height="6.9" rx="1.5" fill="#6f5719" transform="translate(423.3 402) rotate(35)"/>
<rect x="-3.45" y="-3.45" width="6.9" height="6.9" rx="1.5" fill="#a85027" transform="translate(434.4 410.7) rotate(20)"/>
<rect x="-3.45" y="-3.45" width="6.9" height="6.9" rx="1.5" fill="#d4692a" transform="translate(445.4 419.2) rotate(5)"/>
<rect x="-3.45" y="-3.45" width="6.9" height="6.9" rx="1.5" fill="#621b11" transform="translate(457.4 428.7) rotate(20)"/>
<rect x="-3.45" y="-3.45" width="6.9" height="6.9" rx="1.5" fill="#a85027" transform="translate(469 437.4) rotate(25)"/>
<rect x="-3.45" y="-3.45" width="6.9" height="6.9" rx="1.5" fill="#621b11" transform="translate(480.8 446) rotate(5)"/>
<rect x="-3.45" y="-3.45" width="6.9" height="6.9" rx="1.5" fill="#d4692a" transform="translate(492.8 455) rotate(30)"/>
<rect x="-3.45" y="-3.45" width="6.9" height="6.9" rx="1.5" fill="#6f5719" transform="translate(504.1 463) rotate(30)"/>
<rect x="-3.45" y="-3.45" width="6.9" height="6.9" rx="1.5" fill="#d4692a" transform="translate(509.8 467) rotate(30)"/>
<rect x="-3.45" y="-3.45" width="6.9" height="6.9" rx="1.5" fill="#6f5719" transform="translate(521 475.2) rotate(35)"/>
<rect x="-3.45" y="-3.45" width="6.9" height="6.9" rx="1.5" fill="#a85027" transform="translate(532.3 483.2) rotate(35)"/>
<rect x="-3.45" y="-3.45" width="6.9" height="6.9" rx="1.5" fill="#d4692a" transform="translate(544.3 491.3) rotate(20)"/>
<rect x="-3.45" y="-3.45" width="6.9" height="6.9" rx="1.5" fill="#621b11" transform="translate(556.5 499.6) rotate(25)"/>
<rect x="-3.45" y="-3.45" width="6.9" height="6.9" rx="1.5" fill="#a85027" transform="translate(568.7 508) rotate(20)"/>
<rect x="-3.45" y="-3.45" width="6.9" height="6.9" rx="1.5" fill="#621b11" transform="translate(580.8 516.1) rotate(5)"/>
<rect x="-3.45" y="-3.45" width="6.9" height="6.9" rx="1.5" fill="#d4692a" transform="translate(593.3 524.3) rotate(35)"/>
<rect x="-3.45" y="-3.45" width="6.9" height="6.9" rx="1.5" fill="#6f5719" transform="translate(605.5 531.4) rotate(35)"/><rect x="-2.40" y="-2.40" width="4.8" height="4.8" rx="1.1" fill="#6f5719" transform="translate(331.1 235.8) rotate(30)"/>
<rect x="-2.40" y="-2.40" width="4.8" height="4.8" rx="1.1" fill="#d4692a" transform="translate(335.3 238.5) rotate(30)"/>
<rect x="-2.40" y="-2.40" width="4.8" height="4.8" rx="1.1" fill="#6f5719" transform="translate(343.5 243.7) rotate(30)"/>
<rect x="-2.40" y="-2.40" width="4.8" height="4.8" rx="1.1" fill="#a85027" transform="translate(351.8 249.4) rotate(35)"/>
<rect x="-2.40" y="-2.40" width="4.8" height="4.8" rx="1.1" fill="#d4692a" transform="translate(360 256) rotate(5)"/>
<rect x="-2.40" y="-2.40" width="4.8" height="4.8" rx="1.1" fill="#621b11" transform="translate(368.2 262.7) rotate(35)"/>
<rect x="-2.40" y="-2.40" width="4.8" height="4.8" rx="1.1" fill="#a85027" transform="translate(375.7 269.8) rotate(35)"/>
<rect x="-2.40" y="-2.40" width="4.8" height="4.8" rx="1.1" fill="#621b11" transform="translate(382.8 277.5) rotate(30)"/>
<rect x="-2.40" y="-2.40" width="4.8" height="4.8" rx="1.1" fill="#d4692a" transform="translate(389.2 286) rotate(20)"/>
<rect x="-2.40" y="-2.40" width="4.8" height="4.8" rx="1.1" fill="#6f5719" transform="translate(395 294) rotate(30)"/>
<rect x="-2.40" y="-2.40" width="4.8" height="4.8" rx="1.1" fill="#d4692a" transform="translate(397.8 298.3) rotate(20)"/>
<rect x="-2.40" y="-2.40" width="4.8" height="4.8" rx="1.1" fill="#6f5719" transform="translate(402.3 307) rotate(25)"/>
<rect x="-2.40" y="-2.40" width="4.8" height="4.8" rx="1.1" fill="#a85027" transform="translate(406.1 315.8) rotate(15)"/>
<rect x="-2.40" y="-2.40" width="4.8" height="4.8" rx="1.1" fill="#d4692a" transform="translate(409.7 325.8) rotate(30)"/>
<rect x="-2.40" y="-2.40" width="4.8" height="4.8" rx="1.1" fill="#621b11" transform="translate(412.4 336.3) rotate(20)"/>
<rect x="-2.40" y="-2.40" width="4.8" height="4.8" rx="1.1" fill="#a85027" transform="translate(414.4 347.1) rotate(10)"/>
<rect x="-2.40" y="-2.40" width="4.8" height="4.8" rx="1.1" fill="#621b11" transform="translate(415 357.2) rotate(40)"/>
<rect x="-2.40" y="-2.40" width="4.8" height="4.8" rx="1.1" fill="#d4692a" transform="translate(415.4 367) rotate(15)"/>
<rect x="-2.40" y="-2.40" width="4.8" height="4.8" rx="1.1" fill="#6f5719" transform="translate(414.8 377.2) rotate(10)"/>
<rect x="-2.40" y="-2.40" width="4.8" height="4.8" rx="1.1" fill="#d4692a" transform="translate(414.6 382.7) rotate(10)"/>
<rect x="-2.40" y="-2.40" width="4.8" height="4.8" rx="1.1" fill="#a85027" transform="translate(411.2 401.8) rotate(20)"/>
<rect x="-2.40" y="-2.40" width="4.8" height="4.8" rx="1.1" fill="#d4692a" transform="translate(408.6 411.9) rotate(20)"/>
<rect x="-2.40" y="-2.40" width="4.8" height="4.8" rx="1.1" fill="#621b11" transform="translate(405.3 422.2) rotate(40)"/>
<rect x="-2.40" y="-2.40" width="4.8" height="4.8" rx="1.1" fill="#a85027" transform="translate(402.1 431.7) rotate(20)"/>
<rect x="-2.40" y="-2.40" width="4.8" height="4.8" rx="1.1" fill="#621b11" transform="translate(397.7 441.8) rotate(40)"/>
<rect x="-2.40" y="-2.40" width="4.8" height="4.8" rx="1.1" fill="#d4692a" transform="translate(393.3 451.3) rotate(35)"/>
<rect x="-2.40" y="-2.40" width="4.8" height="4.8" rx="1.1" fill="#6f5719" transform="translate(389 460.1) rotate(20)"/>
<rect x="-2.40" y="-2.40" width="4.8" height="4.8" rx="1.1" fill="#d4692a" transform="translate(386.6 464.7) rotate(35)"/>
<rect x="-2.40" y="-2.40" width="4.8" height="4.8" rx="1.1" fill="#6f5719" transform="translate(381.8 473) rotate(35)"/>
<rect x="-2.40" y="-2.40" width="4.8" height="4.8" rx="1.1" fill="#a85027" transform="translate(376.6 481.7) rotate(35)"/>
<rect x="-2.40" y="-2.40" width="4.8" height="4.8" rx="1.1" fill="#d4692a" transform="translate(371 490.5) rotate(15)"/>
<rect x="-2.40" y="-2.40" width="4.8" height="4.8" rx="1.1" fill="#621b11" transform="translate(365.1 499.2) rotate(40)"/>
<rect x="-2.40" y="-2.40" width="4.8" height="4.8" rx="1.1" fill="#a85027" transform="translate(358.9 507.7) rotate(30)"/>
<rect x="-2.40" y="-2.40" width="4.8" height="4.8" rx="1.1" fill="#621b11" transform="translate(352.6 516) rotate(30)"/>
<rect x="-2.40" y="-2.40" width="4.8" height="4.8" rx="1.1" fill="#d4692a" transform="translate(346 524.2) rotate(35)"/>
<rect x="-2.40" y="-2.40" width="4.8" height="4.8" rx="1.1" fill="#6f5719" transform="translate(339.5 531.6) rotate(40)"/></g>
<use href="#globe" x="142.1" y="74.1"/>
<use href="#globe" x="275.6" y="201.8"/>
<use href="#globe" x="598.9" y="64.6"/>
<use href="#globe" x="679.7" y="172.9"/>
<circle cx="84.9" cy="62.5" r="44.3" fill="#fff" stroke="#a5c0dc" stroke-width="6.9"/>
<circle cx="230.6" cy="201.9" r="44.3" fill="#fff" stroke="#a5c0dc" stroke-width="6.9"/>
<circle cx="553.3" cy="61.5" r="44.3" fill="#fff" stroke="#a5c0dc" stroke-width="6.9"/>
<circle cx="721.4" cy="193.3" r="44.3" fill="#fff" stroke="#a5c0dc" stroke-width="6.9"/>
<line x1="578.3" y1="316.4" x2="741.4" y2="316.4" stroke="#cf6a2a" stroke-width="5.2" stroke-linecap="round"/>
<circle cx="578.3" cy="291.7" r="58.7" fill="#f6a835" stroke="#cf6a2a" stroke-width="6.3"/>
<line x1="578.3" y1="289.5" x2="751.9" y2="289.5" stroke="#f6a835" stroke-width="5.2" stroke-linecap="round"/>
<circle cx="578.3" cy="291.7" r="49.3" fill="#dae6ee"/>
<line x1="261.5" y1="367.4" x2="92.2" y2="367.4" stroke="#cf6a2a" stroke-width="5.2" stroke-linecap="round"/>
<circle cx="261.5" cy="365.2" r="58.7" fill="#f6a835" stroke="#cf6a2a" stroke-width="6.3"/>
<line x1="261.5" y1="340.4" x2="101.9" y2="340.4" stroke="#f6a835" stroke-width="5.2" stroke-linecap="round"/>
<circle cx="261.5" cy="365.2" r="49.3" fill="#dae6ee"/>
<line x1="605.4" y1="472.4" x2="768.2" y2="472.4" stroke="#cf6a2a" stroke-width="5.2" stroke-linecap="round"/>
<circle cx="605.4" cy="444.8" r="58.7" fill="#f6a835" stroke="#cf6a2a" stroke-width="6.3"/>
<line x1="605.4" y1="445.6" x2="778.5" y2="445.6" stroke="#f6a835" stroke-width="5.2" stroke-linecap="round"/>
<circle cx="605.4" cy="444.8" r="49.3" fill="#dae6ee"/>

<defs>
<radialGradient id="lg" cx="0.66" cy="0.32" r="0.78">
<stop offset="0" stop-color="#b2d6d2"/><stop offset="0.3" stop-color="#9cc7a4"/><stop offset="0.6" stop-color="#7fb07e"/><stop offset="0.85" stop-color="#5f9264"/><stop offset="1" stop-color="#3d6c40"/>
</radialGradient>
<linearGradient id="lb" x1="0" y1="0" x2="1" y2="0"><stop offset="0" stop-color="#4c220f"/><stop offset="0.3" stop-color="#733711"/><stop offset="1" stop-color="#7d4015"/></linearGradient>
</defs>
<g transform="translate(20 418) scale(0.08772)">
<ellipse cx="328" cy="292" rx="248" ry="238" fill="url(#lg)"/>
<path d="M575 258 L548 215 L520 195 L455 232 L340 250 L262 292 L275 308 L322 288 L365 300 L445 352 L520 305Z" fill="#f6a31c"/>
<path d="M205 383 L212 410 L250 432 L292 442 L300 425 L240 398Z" fill="#f6a31c"/>
<path d="M88 193 L180 236 L290 252 L262 292 L275 308 L322 288 L365 300 L442 355 L446 378 L405 400 L372 432 L322 442 L282 420 L222 382 L160 342 L84 306Z" fill="url(#lb)"/>
<g fill="#f7a823">
<path d="M505 255 L548 205 L562 168 L576 205 L560 232 L520 268Z"/>
<ellipse cx="548" cy="180" rx="36" ry="14" transform="rotate(-68 548 180)"/>
<ellipse cx="582" cy="158" rx="36" ry="14" transform="rotate(-55 582 158)"/>
<ellipse cx="618" cy="150" rx="34" ry="14" transform="rotate(-30 618 150)"/>
<ellipse cx="628" cy="182" rx="32" ry="13" transform="rotate(-8 628 182)"/>
<ellipse cx="594" cy="200" rx="34" ry="13" transform="rotate(-18 594 200)"/>
</g>
</g>
<g font-family="'Liberation Serif', serif" font-weight="bold" font-size="7.2">
<text x="26.8" y="474" fill="#5f9a3c" textLength="26.9" lengthAdjust="spacingAndGlyphs">GLOBAL</text>
<text x="55.8" y="474" fill="#6b2e12" textLength="15.2" lengthAdjust="spacingAndGlyphs">SOIL</text>
<text x="25" y="480.5" fill="#f0982c" textLength="48.4" lengthAdjust="spacingAndGlyphs">PARTNERSHIP</text>
</g>
<text x="333.8" y="99.6" font-size="28.4" font-weight="normal" fill="#9db9d8" textLength="165.4" lengthAdjust="spacingAndGlyphs" stroke="#9db9d8" stroke-width="0.35">GLOBAL SOIL</text>
<text x="329.5" y="134.4" font-size="28.4" font-weight="normal" fill="#9db9d8" textLength="179.1" lengthAdjust="spacingAndGlyphs" stroke="#9db9d8" stroke-width="0.35">INFORMATION</text>
<text x="368.6" y="169.3" font-size="28.4" font-weight="normal" fill="#9db9d8" textLength="100.6" lengthAdjust="spacingAndGlyphs" stroke="#9db9d8" stroke-width="0.35">SYSTEM</text>
<text x="150.0" y="564.5" font-size="16" font-weight="normal" fill="#1b1b27" textLength="537.0" lengthAdjust="spacingAndGlyphs" stroke="#1b1b27" stroke-width="0.2">GLOBAL NETWORK OF NATIONAL SOIL INFORMATION INSTITUTIONS (INSII)</text>
<text x="101.1" y="334.3" font-size="11.6" font-weight="bold" fill="#6b2418" textLength="99.3" lengthAdjust="spacingAndGlyphs" stroke="#6b2418" stroke-width="0.3">CAPACITY BUILDING</text>
<text x="90.4" y="360.9" font-size="11.6" font-weight="bold" fill="#6b2418" textLength="87.5" lengthAdjust="spacingAndGlyphs" stroke="#6b2418" stroke-width="0.3">GSP DATA POLICY</text>
<text x="218.9" y="364.9" font-size="11.6" font-weight="bold" fill="#6b2418" textLength="86.0" lengthAdjust="spacingAndGlyphs" stroke="#6b2418" stroke-width="0.3">HARMONIZATION</text>
<text x="236.8" y="377.6" font-size="11.6" font-weight="bold" fill="#6b2418" textLength="51.4" lengthAdjust="spacingAndGlyphs" stroke="#6b2418" stroke-width="0.3">METHODS</text>
<text x="680.5" y="439.8" font-size="11.6" font-weight="bold" fill="#6b2418" textLength="99.6" lengthAdjust="spacingAndGlyphs" stroke="#6b2418" stroke-width="0.3">CAPACITY BUILDING</text>
<text x="682.2" y="465.4" font-size="11.6" font-weight="bold" fill="#6b2418" textLength="87.5" lengthAdjust="spacingAndGlyphs" stroke="#6b2418" stroke-width="0.3">GSP DATA POLICY</text>
<text x="592.7" y="439.7" font-size="11.6" font-weight="bold" fill="#6b2418" textLength="25.4" lengthAdjust="spacingAndGlyphs" stroke="#6b2418" stroke-width="0.3">DATA</text>
<text x="564.4" y="452.6" font-size="11.6" font-weight="bold" fill="#6b2418" textLength="81.4" lengthAdjust="spacingAndGlyphs" stroke="#6b2418" stroke-width="0.3">SPECIFICATIONS</text>
<text x="653.9" y="283.6" font-size="11.6" font-weight="bold" fill="#6b2418" textLength="99.4" lengthAdjust="spacingAndGlyphs" stroke="#6b2418" stroke-width="0.3">CAPACITY BUILDING</text>
<text x="655.8" y="309.2" font-size="11.6" font-weight="bold" fill="#6b2418" textLength="87.1" lengthAdjust="spacingAndGlyphs" stroke="#6b2418" stroke-width="0.3">GSP DATA POLICY</text>
<text x="543.3" y="291.5" font-size="11.6" font-weight="bold" fill="#6b2418" textLength="69.1" lengthAdjust="spacingAndGlyphs" stroke="#6b2418" stroke-width="0.3">HANDBOOKS,</text>
<text x="553.7" y="303.7" font-size="11.6" font-weight="bold" fill="#6b2418" textLength="48.7" lengthAdjust="spacingAndGlyphs" stroke="#6b2418" stroke-width="0.3">MANUALS</text>
<text x="73.5" y="45" font-size="11.6" font-weight="bold" fill="#6b2418" textLength="22.8" lengthAdjust="spacingAndGlyphs" stroke="#6b2418" stroke-width="0.3">SOIL</text>
<text x="51.1" y="57.6" font-size="11.6" font-weight="bold" fill="#6b2418" textLength="69.2" lengthAdjust="spacingAndGlyphs" stroke="#6b2418" stroke-width="0.3">MONITORING,</text>
<text x="53.7" y="70.5" font-size="11.6" font-weight="bold" fill="#6b2418" textLength="63.4" lengthAdjust="spacingAndGlyphs" stroke="#6b2418" stroke-width="0.3">INDICATORS,</text>
<text x="57.7" y="83.4" font-size="11.6" font-weight="bold" fill="#6b2418" textLength="55.4" lengthAdjust="spacingAndGlyphs" stroke="#6b2418" stroke-width="0.3">STATISTICS</text>
<text x="218.5" y="199.1" font-size="11.6" font-weight="bold" fill="#6b2418" textLength="22.8" lengthAdjust="spacingAndGlyphs" stroke="#6b2418" stroke-width="0.3">SOIL</text>
<text x="206.7" y="212.8" font-size="11.6" font-weight="bold" fill="#6b2418" textLength="47.8" lengthAdjust="spacingAndGlyphs" stroke="#6b2418" stroke-width="0.3">PROFILES</text>
<text x="541.5" y="58.9" font-size="11.6" font-weight="bold" fill="#6b2418" textLength="22.8" lengthAdjust="spacingAndGlyphs" stroke="#6b2418" stroke-width="0.3">SOIL</text>
<text x="537.7" y="71.8" font-size="11.6" font-weight="bold" fill="#6b2418" textLength="31.0" lengthAdjust="spacingAndGlyphs" stroke="#6b2418" stroke-width="0.3">GRIDS</text>
<text x="709.9" y="183.1" font-size="11.6" font-weight="bold" fill="#6b2418" textLength="22.6" lengthAdjust="spacingAndGlyphs" stroke="#6b2418" stroke-width="0.3">SOIL</text>
<text x="697.5" y="196.7" font-size="11.6" font-weight="bold" fill="#6b2418" textLength="48.0" lengthAdjust="spacingAndGlyphs" stroke="#6b2418" stroke-width="0.3">POLYGON</text>
<text x="710.4" y="209.7" font-size="11.6" font-weight="bold" fill="#6b2418" textLength="21.6" lengthAdjust="spacingAndGlyphs" stroke="#6b2418" stroke-width="0.3">MAP</text>
<text transform="translate(276.6 499.2) rotate(-28.8)" font-size="11" fill="#1e1e24" textLength="100" lengthAdjust="spacingAndGlyphs">NATIONAL SOIL DATA</text>
<text transform="translate(453 411.9) rotate(36.9)" font-size="11" fill="#1e1e24" textLength="98.7" lengthAdjust="spacingAndGlyphs">NATIONAL SOIL DATA</text>
<text transform="translate(435.1 442.5) rotate(62.4)" font-size="10.2" fill="#1e1e24" textLength="80.9" lengthAdjust="spacingAndGlyphs">NATIONAL SOIL DATA</text></svg>
</body></html>
